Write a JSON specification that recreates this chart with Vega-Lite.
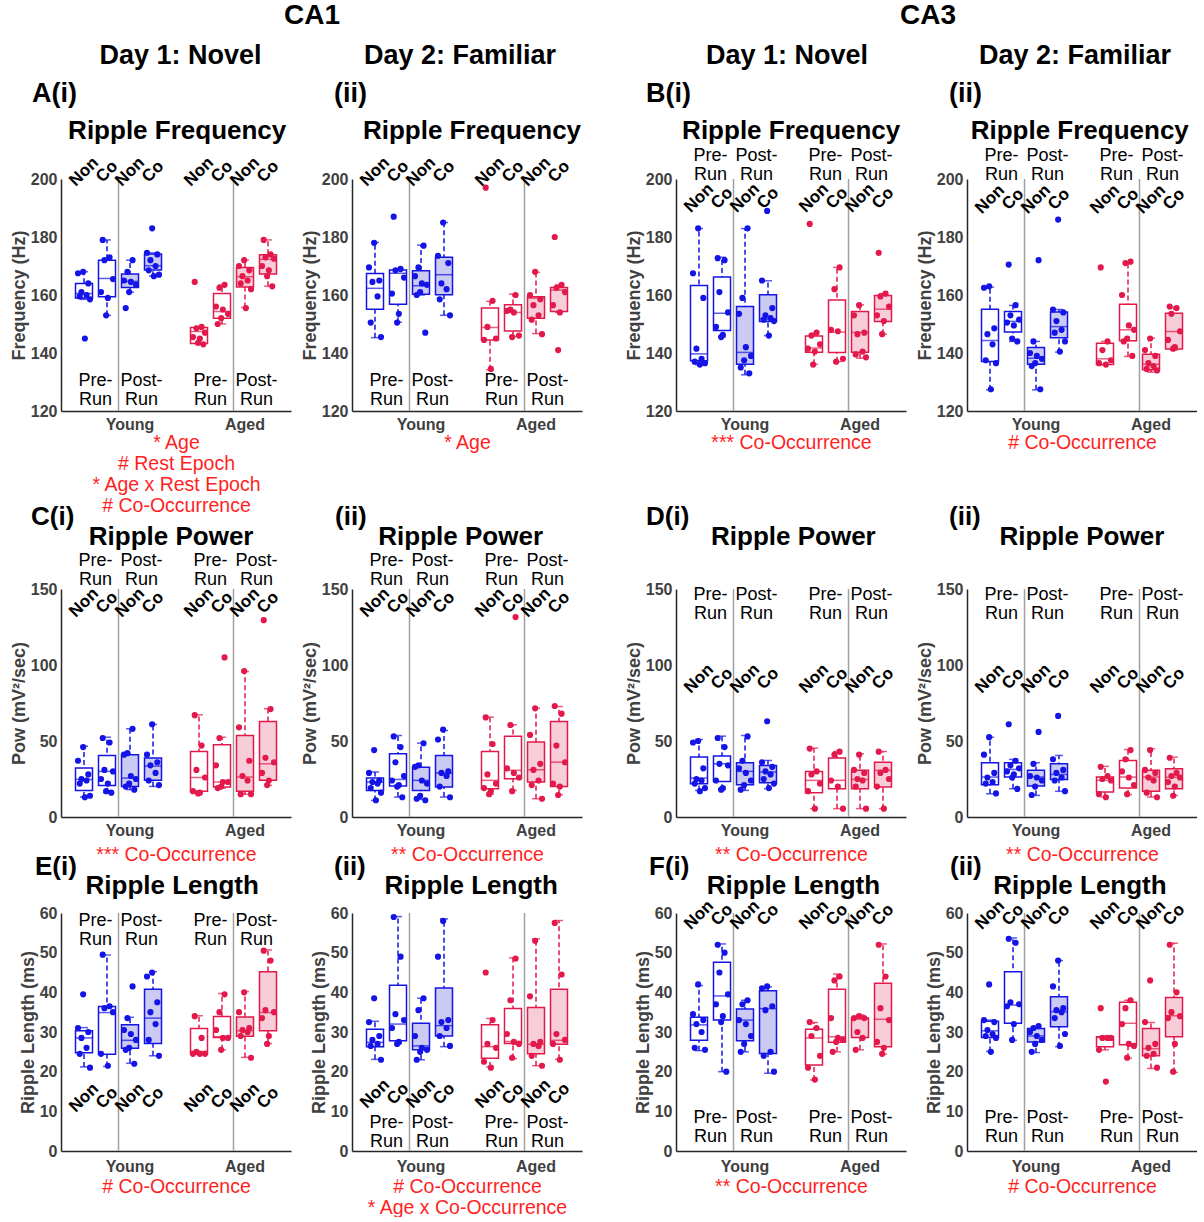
{
"$schema":"https://vega.github.io/schema/vega-lite/v6.json",
"background":"white",
"padding":{"left":10,"top":2,"right":0,"bottom":0},
"config":{
 "font":"Liberation Sans",
 "view":{"stroke":null},
 "range":{"category":["#e3194b","#e3194b","#e3194b","#e3194b","#1414e6","#1414e6","#1414e6","#1414e6"]},
 "axis":{"grid":false,"ticks":false,"labelOverlap":false,"domainColor":"#262626","domainWidth":1.5,"labelFont":"Liberation Sans","labelFontSize":16,"labelFontWeight":"bold","labelColor":"#404040","titleFont":"Liberation Sans","titleFontSize":18,"titleFontWeight":"bold","titleColor":"#404040"},
 "axisX":{"labelAngle":0,"labelPadding":5,"titleColor":"#ff1f1f","titleFontWeight":"normal","titleFontSize":19.5,"titleLineHeight":21,"titlePadding":1},
 "axisY":{"labelPadding":4,"titlePadding":2,"labelOverlap":false},
 "title":{"font":"Liberation Sans","fontWeight":"bold","color":"black","subtitleFont":"Liberation Sans","subtitleFontWeight":"bold","subtitleColor":"black","subtitleFontSize":26,"anchor":"start","frame":"group"}
},
"datasets":{
"ep":[{"g":"YPC","t":"Pre-\nRun"},{"g":"YTC","t":"Post-\nRun"},{"g":"APC","t":"Pre-\nRun"},{"g":"ATC","t":"Post-\nRun"}],
"cd":[{"g":"YPN","t":"Non"},{"g":"YPC","t":"Co"},{"g":"YTN","t":"Non"},{"g":"YTC","t":"Co"},{"g":"APN","t":"Non"},{"g":"APC","t":"Co"},{"g":"ATN","t":"Non"},{"g":"ATC","t":"Co"}],
"box":[
{"p":"A1","g":"YPN","lo":158.5,"q1":159,"md":160.5,"q3":164,"hi":168},
{"p":"A1","g":"YPC","lo":153,"q1":159.4,"md":165.7,"q3":172,"hi":179},
{"p":"A1","g":"YTN","lo":161,"q1":162.6,"md":164.7,"q3":167.2,"hi":172},
{"p":"A1","g":"YTC","lo":166.5,"q1":168.6,"md":170.1,"q3":174.1,"hi":174.5},
{"p":"A1","g":"APN","lo":143,"q1":143.3,"md":147.4,"q3":148.8,"hi":149},
{"p":"A1","g":"APC","lo":150,"q1":152,"md":154.3,"q3":160.5,"hi":163.5},
{"p":"A1","g":"ATN","lo":155.7,"q1":162.8,"md":166.3,"q3":169.5,"hi":172},
{"p":"A1","g":"ATC","lo":163,"q1":167.2,"md":172.3,"q3":173.9,"hi":179},
{"p":"A2","g":"YPN","lo":145.3,"q1":155.1,"md":162.3,"q3":167.4,"hi":178.1},
{"p":"A2","g":"YPC","lo":150.6,"q1":156.8,"md":167.5,"q3":168.6,"hi":169},
{"p":"A2","g":"YTN","lo":160,"q1":160.3,"md":163.2,"q3":168.4,"hi":177.2},
{"p":"A2","g":"YTC","lo":153,"q1":160.1,"md":167,"q3":173,"hi":185},
{"p":"A2","g":"APN","lo":134.2,"q1":144.5,"md":148.8,"q3":155.5,"hi":157.8},
{"p":"A2","g":"APC","lo":145.7,"q1":147.6,"md":154,"q3":156.6,"hi":160.3},
{"p":"A2","g":"ATN","lo":146.7,"q1":152,"md":158.9,"q3":159.4,"hi":167.8},
{"p":"A2","g":"ATC","lo":154,"q1":154.3,"md":161.7,"q3":162.6,"hi":163.5},
{"p":"B1","g":"YPN","lo":136,"q1":137.3,"md":139.7,"q3":163.3,"hi":182.9},
{"p":"B1","g":"YPC","lo":145.5,"q1":147.8,"md":153.7,"q3":166.2,"hi":173},
{"p":"B1","g":"YTN","lo":132.5,"q1":136.1,"md":140.2,"q3":156,"hi":182.9},
{"p":"B1","g":"YTC","lo":146,"q1":150.9,"md":151.7,"q3":160.1,"hi":164.9},
{"p":"B1","g":"APN","lo":136.1,"q1":140.3,"md":141.7,"q3":145.9,"hi":146.8},
{"p":"B1","g":"APC","lo":137,"q1":140.2,"md":147.2,"q3":158.3,"hi":169.5},
{"p":"B1","g":"ATN","lo":138.2,"q1":140.3,"md":147.1,"q3":154.3,"hi":156.6},
{"p":"B1","g":"ATC","lo":146.5,"q1":150.9,"md":155.1,"q3":159.8,"hi":160.5},
{"p":"B2","g":"YPN","lo":127.3,"q1":137.1,"md":144.3,"q3":155.1,"hi":162.7},
{"p":"B2","g":"YPC","lo":144,"q1":147.2,"md":150.9,"q3":154.3,"hi":156.4},
{"p":"B2","g":"YTN","lo":127.3,"q1":136.1,"md":138.2,"q3":141.9,"hi":144},
{"p":"B2","g":"YTC","lo":140.3,"q1":145.3,"md":149.1,"q3":154.1,"hi":155},
{"p":"B2","g":"APN","lo":136,"q1":136,"md":138,"q3":143.4,"hi":144},
{"p":"B2","g":"APC","lo":138.8,"q1":144.2,"md":148,"q3":156.8,"hi":171},
{"p":"B2","g":"ATN","lo":133.4,"q1":134.2,"md":136.1,"q3":139.6,"hi":145.1},
{"p":"B2","g":"ATC","lo":141,"q1":141.4,"md":147.4,"q3":153.7,"hi":155.8},
{"p":"C1","g":"YPN","lo":13.1,"q1":17.5,"md":24.7,"q3":32.2,"hi":46.6},
{"p":"C1","g":"YPC","lo":16,"q1":20.8,"md":30,"q3":40.5,"hi":52.5},
{"p":"C1","g":"YTN","lo":18,"q1":20.1,"md":25.6,"q3":40.9,"hi":58},
{"p":"C1","g":"YTC","lo":20.1,"q1":24.1,"md":33.5,"q3":38.8,"hi":60.9},
{"p":"C1","g":"APN","lo":15.5,"q1":16.9,"md":26,"q3":43.1,"hi":67.2},
{"p":"C1","g":"APC","lo":19,"q1":19.7,"md":23,"q3":47.5,"hi":52.5},
{"p":"C1","g":"ATN","lo":14.9,"q1":16.9,"md":26.3,"q3":53.6,"hi":95.7},
{"p":"C1","g":"ATC","lo":20.8,"q1":24.1,"md":35,"q3":62.8,"hi":71.2},
{"p":"C2","g":"YPN","lo":10.9,"q1":17.5,"md":23,"q3":25.6,"hi":29.6},
{"p":"C2","g":"YPC","lo":13.1,"q1":20.4,"md":24.7,"q3":41.6,"hi":53.6},
{"p":"C2","g":"YTN","lo":11.6,"q1":17.5,"md":24.1,"q3":32.8,"hi":48.6},
{"p":"C2","g":"YTC","lo":13.1,"q1":19.7,"md":28.9,"q3":40.5,"hi":56.9},
{"p":"C2","g":"APN","lo":15,"q1":18.6,"md":24.1,"q3":43.1,"hi":65.7},
{"p":"C2","g":"APC","lo":17.5,"q1":25.2,"md":30.7,"q3":53.2,"hi":60.7},
{"p":"C2","g":"ATN","lo":12,"q1":23,"md":31.1,"q3":49.3,"hi":71.6},
{"p":"C2","g":"ATC","lo":14.7,"q1":20.1,"md":36.1,"q3":62.8,"hi":72.7},
{"p":"D1","g":"YPN","lo":17.5,"q1":21.9,"md":25.6,"q3":39.4,"hi":51},
{"p":"D1","g":"YPC","lo":18.2,"q1":23.4,"md":35,"q3":40.1,"hi":53.2},
{"p":"D1","g":"YTN","lo":17.5,"q1":21.2,"md":30,"q3":35.7,"hi":53.6},
{"p":"D1","g":"YTC","lo":18.6,"q1":22.6,"md":29.6,"q3":33.9,"hi":37.2},
{"p":"D1","g":"APN","lo":5.5,"q1":16,"md":24.1,"q3":30,"hi":45.3},
{"p":"D1","g":"APC","lo":5.5,"q1":18.6,"md":24.1,"q3":38.8,"hi":43.1},
{"p":"D1","g":"ATN","lo":5.5,"q1":18.6,"md":24.7,"q3":30.7,"hi":41.6},
{"p":"D1","g":"ATC","lo":5.5,"q1":19.7,"md":30.7,"q3":36.1,"hi":43.1},
{"p":"D2","g":"YPN","lo":15.3,"q1":21.2,"md":26.3,"q3":35.7,"hi":52.5},
{"p":"D2","g":"YPC","lo":18.6,"q1":26.3,"md":31.3,"q3":35.7,"hi":37.9},
{"p":"D2","g":"YTN","lo":14.2,"q1":20.4,"md":26.3,"q3":30.7,"hi":35.7},
{"p":"D2","g":"YTC","lo":16.9,"q1":24.7,"md":28,"q3":35,"hi":40.5},
{"p":"D2","g":"APN","lo":13.1,"q1":16.4,"md":24.1,"q3":26.3,"hi":33.3},
{"p":"D2","g":"APC","lo":14.7,"q1":19,"md":26.3,"q3":37.2,"hi":44.4},
{"p":"D2","g":"ATN","lo":13.1,"q1":16.9,"md":26.3,"q3":30.7,"hi":44.9},
{"p":"D2","g":"ATC","lo":14.2,"q1":18.6,"md":26.1,"q3":31.8,"hi":39.4},
{"p":"E1","g":"YPN","lo":21.2,"q1":24.8,"md":28.5,"q3":30.3,"hi":31.1},
{"p":"E1","g":"YPC","lo":21.3,"q1":24.4,"md":34.9,"q3":36.4,"hi":49.4},
{"p":"E1","g":"YTN","lo":22.1,"q1":25.9,"md":27.9,"q3":31.8,"hi":33.7},
{"p":"E1","g":"YTC","lo":24,"q1":27.1,"md":33.5,"q3":40.8,"hi":45.2},
{"p":"E1","g":"APN","lo":24.5,"q1":24.5,"md":25.1,"q3":30.9,"hi":34.1},
{"p":"E1","g":"APC","lo":25.5,"q1":28.6,"md":28.8,"q3":33.9,"hi":39.7},
{"p":"E1","g":"ATN","lo":23.6,"q1":28.9,"md":30.3,"q3":33.8,"hi":40.2},
{"p":"E1","g":"ATC","lo":27.1,"q1":30.3,"md":34.9,"q3":45.2,"hi":50.7},
{"p":"E2","g":"YPN","lo":23.1,"q1":26.3,"md":27.4,"q3":30.7,"hi":32.7},
{"p":"E2","g":"YPC","lo":27.1,"q1":27.8,"md":32,"q3":41.8,"hi":59.1},
{"p":"E2","g":"YTN","lo":23,"q1":25.5,"md":26.5,"q3":32.2,"hi":38.5},
{"p":"E2","g":"YTC","lo":26.3,"q1":29,"md":31.6,"q3":41.1,"hi":58.5},
{"p":"E2","g":"APN","lo":21.2,"q1":23.4,"md":26.3,"q3":31.8,"hi":33.4},
{"p":"E2","g":"APC","lo":23.3,"q1":27.1,"md":27.6,"q3":35.9,"hi":48.7},
{"p":"E2","g":"ATN","lo":21.5,"q1":24.5,"md":26.9,"q3":36.2,"hi":53.5},
{"p":"E2","g":"ATC","lo":23.1,"q1":26.9,"md":27.9,"q3":40.8,"hi":58.1},
{"p":"F1","g":"YPN","lo":25.3,"q1":27.9,"md":31.8,"q3":33.7,"hi":41.7},
{"p":"F1","g":"YPC","lo":20,"q1":33,"md":39.1,"q3":47.6,"hi":52.2},
{"p":"F1","g":"YTN","lo":25,"q1":27.8,"md":33,"q3":35.8,"hi":38},
{"p":"F1","g":"YTC","lo":19.6,"q1":24.6,"md":35.9,"q3":40.4,"hi":41.4},
{"p":"F1","g":"APN","lo":17.9,"q1":21.7,"md":28.5,"q3":30.7,"hi":32.4},
{"p":"F1","g":"APC","lo":25,"q1":27.4,"md":28.8,"q3":40.8,"hi":44.6},
{"p":"F1","g":"ATN","lo":25.5,"q1":28.6,"md":33.3,"q3":33.5,"hi":34.3},
{"p":"F1","g":"ATC","lo":24.4,"q1":26.3,"md":33.2,"q3":42.3,"hi":52.2},
{"p":"F2","g":"YPN","lo":25.1,"q1":28.6,"md":30.3,"q3":32.7,"hi":33},
{"p":"F2","g":"YPC","lo":27.9,"q1":32.2,"md":36.8,"q3":45.2,"hi":53.7},
{"p":"F2","g":"YTN","lo":24.8,"q1":27.5,"md":29,"q3":30.9,"hi":31.3},
{"p":"F2","g":"YTC","lo":26.3,"q1":31.3,"md":35.1,"q3":38.9,"hi":48},
{"p":"F2","g":"APN","lo":25.5,"q1":26.3,"md":28.6,"q3":28.8,"hi":29},
{"p":"F2","g":"APC","lo":23.4,"q1":26.8,"md":32.2,"q3":37.5,"hi":38},
{"p":"F2","g":"ATN","lo":20.8,"q1":24,"md":25.8,"q3":30.9,"hi":32.4},
{"p":"F2","g":"ATC","lo":19.8,"q1":28.8,"md":34.1,"q3":38.7,"hi":52.4}
],
"pts":[
{"p":"A1","g":"YPN","v":168,"s":4},{"p":"A1","g":"YPN","v":167.5,"s":1},{"p":"A1","g":"YPN","v":164,"s":7},{"p":"A1","g":"YPN","v":161,"s":3},{"p":"A1","g":"YPN","v":160,"s":6},{"p":"A1","g":"YPN","v":159.5,"s":2},{"p":"A1","g":"YPN","v":158.5,"s":8},{"p":"A1","g":"YPN","v":145,"s":5},
{"p":"A1","g":"YPC","v":179,"s":2},{"p":"A1","g":"YPC","v":173,"s":6},{"p":"A1","g":"YPC","v":172,"s":3},{"p":"A1","g":"YPC","v":165.5,"s":8},{"p":"A1","g":"YPC","v":161,"s":1},{"p":"A1","g":"YPC","v":159,"s":5},{"p":"A1","g":"YPC","v":153,"s":4},
{"p":"A1","g":"YTN","v":172,"s":6},{"p":"A1","g":"YTN","v":168,"s":3},{"p":"A1","g":"YTN","v":165,"s":1},{"p":"A1","g":"YTN","v":164.5,"s":5},{"p":"A1","g":"YTN","v":163.5,"s":8},{"p":"A1","g":"YTN","v":161,"s":4},{"p":"A1","g":"YTN","v":155.5,"s":2},
{"p":"A1","g":"YTC","v":183,"s":4},{"p":"A1","g":"YTC","v":174.5,"s":1},{"p":"A1","g":"YTC","v":174,"s":7},{"p":"A1","g":"YTC","v":172,"s":3},{"p":"A1","g":"YTC","v":170,"s":6},{"p":"A1","g":"YTC","v":168.5,"s":2},{"p":"A1","g":"YTC","v":167,"s":8},{"p":"A1","g":"YTC","v":166.5,"s":5},
{"p":"A1","g":"APN","v":164.5,"s":2},{"p":"A1","g":"APN","v":149,"s":6},{"p":"A1","g":"APN","v":148.5,"s":3},{"p":"A1","g":"APN","v":147,"s":8},{"p":"A1","g":"APN","v":145.5,"s":1},{"p":"A1","g":"APN","v":145,"s":5},{"p":"A1","g":"APN","v":143.5,"s":4},{"p":"A1","g":"APN","v":143,"s":7},
{"p":"A1","g":"APC","v":163.5,"s":6},{"p":"A1","g":"APC","v":162.5,"s":3},{"p":"A1","g":"APC","v":156,"s":1},{"p":"A1","g":"APC","v":155,"s":5},{"p":"A1","g":"APC","v":153.5,"s":8},{"p":"A1","g":"APC","v":152,"s":4},{"p":"A1","g":"APC","v":150,"s":2},
{"p":"A1","g":"ATN","v":172,"s":4},{"p":"A1","g":"ATN","v":170,"s":1},{"p":"A1","g":"ATN","v":168.5,"s":7},{"p":"A1","g":"ATN","v":166.5,"s":3},{"p":"A1","g":"ATN","v":165,"s":6},{"p":"A1","g":"ATN","v":164,"s":2},{"p":"A1","g":"ATN","v":162,"s":8},{"p":"A1","g":"ATN","v":155.5,"s":5},
{"p":"A1","g":"ATC","v":179,"s":2},{"p":"A1","g":"ATC","v":174,"s":6},{"p":"A1","g":"ATC","v":173,"s":3},{"p":"A1","g":"ATC","v":172.5,"s":8},{"p":"A1","g":"ATC","v":170,"s":1},{"p":"A1","g":"ATC","v":168.5,"s":5},{"p":"A1","g":"ATC","v":166.5,"s":4},{"p":"A1","g":"ATC","v":163,"s":7},
{"p":"A2","g":"YPN","v":178,"s":4},{"p":"A2","g":"YPN","v":169.5,"s":1},{"p":"A2","g":"YPN","v":165,"s":7},{"p":"A2","g":"YPN","v":164.5,"s":3},{"p":"A2","g":"YPN","v":159.5,"s":6},{"p":"A2","g":"YPN","v":150.5,"s":2},{"p":"A2","g":"YPN","v":145.5,"s":8},
{"p":"A2","g":"YPC","v":187,"s":2},{"p":"A2","g":"YPC","v":169,"s":6},{"p":"A2","g":"YPC","v":168.5,"s":3},{"p":"A2","g":"YPC","v":166,"s":8},{"p":"A2","g":"YPC","v":160.5,"s":1},{"p":"A2","g":"YPC","v":153.5,"s":5},{"p":"A2","g":"YPC","v":150.5,"s":4},
{"p":"A2","g":"YTN","v":177,"s":6},{"p":"A2","g":"YTN","v":169.5,"s":3},{"p":"A2","g":"YTN","v":166.5,"s":1},{"p":"A2","g":"YTN","v":164,"s":5},{"p":"A2","g":"YTN","v":163.5,"s":8},{"p":"A2","g":"YTN","v":161,"s":4},{"p":"A2","g":"YTN","v":160,"s":2},{"p":"A2","g":"YTN","v":147,"s":7},
{"p":"A2","g":"YTC","v":185,"s":4},{"p":"A2","g":"YTC","v":173.5,"s":1},{"p":"A2","g":"YTC","v":171,"s":7},{"p":"A2","g":"YTC","v":164,"s":3},{"p":"A2","g":"YTC","v":162,"s":6},{"p":"A2","g":"YTC","v":158.5,"s":2},{"p":"A2","g":"YTC","v":153,"s":8},
{"p":"A2","g":"APN","v":197,"s":2},{"p":"A2","g":"APN","v":158,"s":6},{"p":"A2","g":"APN","v":149,"s":3},{"p":"A2","g":"APN","v":145,"s":8},{"p":"A2","g":"APN","v":144.5,"s":1},{"p":"A2","g":"APN","v":134.5,"s":5},
{"p":"A2","g":"APC","v":160,"s":6},{"p":"A2","g":"APC","v":155,"s":3},{"p":"A2","g":"APC","v":154.5,"s":1},{"p":"A2","g":"APC","v":154,"s":5},{"p":"A2","g":"APC","v":146,"s":8},{"p":"A2","g":"APC","v":145.5,"s":4},
{"p":"A2","g":"ATN","v":168,"s":4},{"p":"A2","g":"ATN","v":160,"s":1},{"p":"A2","g":"ATN","v":158.5,"s":7},{"p":"A2","g":"ATN","v":156.5,"s":3},{"p":"A2","g":"ATN","v":153,"s":6},{"p":"A2","g":"ATN","v":151.5,"s":2},{"p":"A2","g":"ATN","v":146.5,"s":8},
{"p":"A2","g":"ATC","v":180,"s":2},{"p":"A2","g":"ATC","v":163.5,"s":6},{"p":"A2","g":"ATC","v":162.5,"s":3},{"p":"A2","g":"ATC","v":161,"s":8},{"p":"A2","g":"ATC","v":156.5,"s":1},{"p":"A2","g":"ATC","v":154,"s":5},{"p":"A2","g":"ATC","v":141,"s":4},
{"p":"B1","g":"YPN","v":183,"s":4},{"p":"B1","g":"YPN","v":167.5,"s":1},{"p":"B1","g":"YPN","v":159,"s":7},{"p":"B1","g":"YPN","v":141.5,"s":3},{"p":"B1","g":"YPN","v":138,"s":6},{"p":"B1","g":"YPN","v":137,"s":2},{"p":"B1","g":"YPN","v":136.5,"s":8},{"p":"B1","g":"YPN","v":136,"s":5},
{"p":"B1","g":"YPC","v":172.7,"s":2},{"p":"B1","g":"YPC","v":172,"s":6},{"p":"B1","g":"YPC","v":161,"s":3},{"p":"B1","g":"YPC","v":154,"s":8},{"p":"B1","g":"YPC","v":149,"s":1},{"p":"B1","g":"YPC","v":146.3,"s":5},{"p":"B1","g":"YPC","v":145.5,"s":4},
{"p":"B1","g":"YTN","v":183,"s":6},{"p":"B1","g":"YTN","v":159,"s":3},{"p":"B1","g":"YTN","v":153.5,"s":1},{"p":"B1","g":"YTN","v":142,"s":5},{"p":"B1","g":"YTN","v":139,"s":8},{"p":"B1","g":"YTN","v":137.5,"s":4},{"p":"B1","g":"YTN","v":135,"s":2},{"p":"B1","g":"YTN","v":133,"s":7},
{"p":"B1","g":"YTC","v":189,"s":4},{"p":"B1","g":"YTC","v":165,"s":1},{"p":"B1","g":"YTC","v":155.5,"s":7},{"p":"B1","g":"YTC","v":153,"s":3},{"p":"B1","g":"YTC","v":152,"s":6},{"p":"B1","g":"YTC","v":151.5,"s":2},{"p":"B1","g":"YTC","v":151,"s":8},{"p":"B1","g":"YTC","v":146,"s":5},
{"p":"B1","g":"APN","v":184.5,"s":2},{"p":"B1","g":"APN","v":147,"s":6},{"p":"B1","g":"APN","v":146,"s":3},{"p":"B1","g":"APN","v":143,"s":8},{"p":"B1","g":"APN","v":141.5,"s":1},{"p":"B1","g":"APN","v":140.5,"s":5},{"p":"B1","g":"APN","v":136,"s":4},
{"p":"B1","g":"APC","v":169.5,"s":6},{"p":"B1","g":"APC","v":162,"s":3},{"p":"B1","g":"APC","v":148,"s":1},{"p":"B1","g":"APC","v":147.5,"s":5},{"p":"B1","g":"APC","v":138,"s":8},{"p":"B1","g":"APC","v":137,"s":4},
{"p":"B1","g":"ATN","v":156.5,"s":4},{"p":"B1","g":"ATN","v":153,"s":1},{"p":"B1","g":"ATN","v":147,"s":7},{"p":"B1","g":"ATN","v":146.5,"s":3},{"p":"B1","g":"ATN","v":140.5,"s":6},{"p":"B1","g":"ATN","v":139.5,"s":2},{"p":"B1","g":"ATN","v":138.5,"s":8},
{"p":"B1","g":"ATC","v":174.5,"s":2},{"p":"B1","g":"ATC","v":160.5,"s":6},{"p":"B1","g":"ATC","v":159.5,"s":3},{"p":"B1","g":"ATC","v":156,"s":8},{"p":"B1","g":"ATC","v":153,"s":1},{"p":"B1","g":"ATC","v":151,"s":5},{"p":"B1","g":"ATC","v":146.5,"s":4},
{"p":"B2","g":"YPN","v":163,"s":4},{"p":"B2","g":"YPN","v":162.5,"s":1},{"p":"B2","g":"YPN","v":148.5,"s":7},{"p":"B2","g":"YPN","v":146.5,"s":3},{"p":"B2","g":"YPN","v":143,"s":6},{"p":"B2","g":"YPN","v":137.5,"s":2},{"p":"B2","g":"YPN","v":136.5,"s":8},{"p":"B2","g":"YPN","v":127.5,"s":5},
{"p":"B2","g":"YPC","v":170.5,"s":2},{"p":"B2","g":"YPC","v":156.5,"s":6},{"p":"B2","g":"YPC","v":153,"s":3},{"p":"B2","g":"YPC","v":151.5,"s":8},{"p":"B2","g":"YPC","v":150.5,"s":1},{"p":"B2","g":"YPC","v":149.5,"s":5},{"p":"B2","g":"YPC","v":145,"s":4},{"p":"B2","g":"YPC","v":144,"s":7},
{"p":"B2","g":"YTN","v":172,"s":6},{"p":"B2","g":"YTN","v":144,"s":3},{"p":"B2","g":"YTN","v":140,"s":1},{"p":"B2","g":"YTN","v":139,"s":5},{"p":"B2","g":"YTN","v":138,"s":8},{"p":"B2","g":"YTN","v":136.5,"s":4},{"p":"B2","g":"YTN","v":135.5,"s":2},{"p":"B2","g":"YTN","v":127.5,"s":7},
{"p":"B2","g":"YTC","v":186,"s":4},{"p":"B2","g":"YTC","v":155,"s":1},{"p":"B2","g":"YTC","v":154,"s":7},{"p":"B2","g":"YTC","v":151,"s":3},{"p":"B2","g":"YTC","v":148,"s":6},{"p":"B2","g":"YTC","v":147,"s":2},{"p":"B2","g":"YTC","v":144,"s":8},{"p":"B2","g":"YTC","v":140.5,"s":5},
{"p":"B2","g":"APN","v":169.5,"s":2},{"p":"B2","g":"APN","v":144,"s":6},{"p":"B2","g":"APN","v":141,"s":3},{"p":"B2","g":"APN","v":137.5,"s":8},{"p":"B2","g":"APN","v":136.5,"s":1},{"p":"B2","g":"APN","v":136,"s":5},
{"p":"B2","g":"APC","v":171.5,"s":6},{"p":"B2","g":"APC","v":171,"s":3},{"p":"B2","g":"APC","v":160,"s":1},{"p":"B2","g":"APC","v":149.5,"s":5},{"p":"B2","g":"APC","v":148,"s":8},{"p":"B2","g":"APC","v":145,"s":4},{"p":"B2","g":"APC","v":144,"s":2},{"p":"B2","g":"APC","v":139,"s":7},
{"p":"B2","g":"ATN","v":145,"s":4},{"p":"B2","g":"ATN","v":141,"s":1},{"p":"B2","g":"ATN","v":139,"s":7},{"p":"B2","g":"ATN","v":136.5,"s":3},{"p":"B2","g":"ATN","v":135.5,"s":6},{"p":"B2","g":"ATN","v":134.5,"s":2},{"p":"B2","g":"ATN","v":134,"s":8},
{"p":"B2","g":"ATC","v":156,"s":2},{"p":"B2","g":"ATC","v":155.5,"s":6},{"p":"B2","g":"ATC","v":153.5,"s":3},{"p":"B2","g":"ATC","v":147.5,"s":8},{"p":"B2","g":"ATC","v":144.5,"s":1},{"p":"B2","g":"ATC","v":142,"s":5},{"p":"B2","g":"ATC","v":141.5,"s":4},
{"p":"C1","g":"YPN","v":46,"s":4},{"p":"C1","g":"YPN","v":37,"s":1},{"p":"C1","g":"YPN","v":28,"s":7},{"p":"C1","g":"YPN","v":25,"s":3},{"p":"C1","g":"YPN","v":24,"s":6},{"p":"C1","g":"YPN","v":22,"s":2},{"p":"C1","g":"YPN","v":14,"s":8},{"p":"C1","g":"YPN","v":13,"s":5},
{"p":"C1","g":"YPC","v":52,"s":2},{"p":"C1","g":"YPC","v":49,"s":6},{"p":"C1","g":"YPC","v":31,"s":3},{"p":"C1","g":"YPC","v":30,"s":8},{"p":"C1","g":"YPC","v":25,"s":1},{"p":"C1","g":"YPC","v":22,"s":5},{"p":"C1","g":"YPC","v":17,"s":4},{"p":"C1","g":"YPC","v":16,"s":7},
{"p":"C1","g":"YTN","v":58,"s":6},{"p":"C1","g":"YTN","v":42,"s":3},{"p":"C1","g":"YTN","v":41,"s":1},{"p":"C1","g":"YTN","v":27,"s":5},{"p":"C1","g":"YTN","v":25,"s":8},{"p":"C1","g":"YTN","v":22,"s":4},{"p":"C1","g":"YTN","v":20,"s":2},{"p":"C1","g":"YTN","v":18,"s":7},
{"p":"C1","g":"YTC","v":61,"s":4},{"p":"C1","g":"YTC","v":41,"s":1},{"p":"C1","g":"YTC","v":36,"s":7},{"p":"C1","g":"YTC","v":34,"s":3},{"p":"C1","g":"YTC","v":29,"s":6},{"p":"C1","g":"YTC","v":24,"s":2},{"p":"C1","g":"YTC","v":21,"s":8},
{"p":"C1","g":"APN","v":67,"s":2},{"p":"C1","g":"APN","v":47,"s":6},{"p":"C1","g":"APN","v":31,"s":3},{"p":"C1","g":"APN","v":26,"s":8},{"p":"C1","g":"APN","v":17,"s":1},{"p":"C1","g":"APN","v":16,"s":5},{"p":"C1","g":"APN","v":15.5,"s":4},
{"p":"C1","g":"APC","v":105,"s":6},{"p":"C1","g":"APC","v":52,"s":3},{"p":"C1","g":"APC","v":34,"s":1},{"p":"C1","g":"APC","v":23,"s":5},{"p":"C1","g":"APC","v":23,"s":8},{"p":"C1","g":"APC","v":20,"s":4},{"p":"C1","g":"APC","v":19,"s":2},
{"p":"C1","g":"ATN","v":96,"s":4},{"p":"C1","g":"ATN","v":59,"s":1},{"p":"C1","g":"ATN","v":37,"s":7},{"p":"C1","g":"ATN","v":27,"s":3},{"p":"C1","g":"ATN","v":24,"s":6},{"p":"C1","g":"ATN","v":15,"s":2},{"p":"C1","g":"ATN","v":15,"s":8},
{"p":"C1","g":"ATC","v":129.5,"s":2},{"p":"C1","g":"ATC","v":71,"s":6},{"p":"C1","g":"ATC","v":39,"s":3},{"p":"C1","g":"ATC","v":36,"s":8},{"p":"C1","g":"ATC","v":29,"s":1},{"p":"C1","g":"ATC","v":24,"s":5},{"p":"C1","g":"ATC","v":21,"s":4},
{"p":"C2","g":"YPN","v":44,"s":4},{"p":"C2","g":"YPN","v":29,"s":1},{"p":"C2","g":"YPN","v":24,"s":7},{"p":"C2","g":"YPN","v":23,"s":3},{"p":"C2","g":"YPN","v":22,"s":6},{"p":"C2","g":"YPN","v":19,"s":2},{"p":"C2","g":"YPN","v":16,"s":8},{"p":"C2","g":"YPN","v":11,"s":5},
{"p":"C2","g":"YPC","v":53,"s":2},{"p":"C2","g":"YPC","v":46,"s":6},{"p":"C2","g":"YPC","v":36,"s":3},{"p":"C2","g":"YPC","v":27,"s":8},{"p":"C2","g":"YPC","v":24,"s":1},{"p":"C2","g":"YPC","v":21,"s":5},{"p":"C2","g":"YPC","v":20,"s":4},{"p":"C2","g":"YPC","v":13,"s":7},
{"p":"C2","g":"YTN","v":48.5,"s":6},{"p":"C2","g":"YTN","v":34,"s":3},{"p":"C2","g":"YTN","v":33,"s":1},{"p":"C2","g":"YTN","v":24,"s":5},{"p":"C2","g":"YTN","v":22,"s":8},{"p":"C2","g":"YTN","v":14,"s":4},{"p":"C2","g":"YTN","v":12,"s":2},{"p":"C2","g":"YTN","v":11,"s":7},
{"p":"C2","g":"YTC","v":57.5,"s":4},{"p":"C2","g":"YTC","v":51,"s":1},{"p":"C2","g":"YTC","v":30,"s":7},{"p":"C2","g":"YTC","v":29,"s":3},{"p":"C2","g":"YTC","v":27,"s":6},{"p":"C2","g":"YTC","v":20,"s":2},{"p":"C2","g":"YTC","v":13,"s":8},
{"p":"C2","g":"APN","v":65.5,"s":2},{"p":"C2","g":"APN","v":48,"s":6},{"p":"C2","g":"APN","v":28,"s":3},{"p":"C2","g":"APN","v":22,"s":8},{"p":"C2","g":"APN","v":19,"s":1},{"p":"C2","g":"APN","v":17,"s":5},{"p":"C2","g":"APN","v":15,"s":4},
{"p":"C2","g":"APC","v":131.5,"s":6},{"p":"C2","g":"APC","v":60.5,"s":3},{"p":"C2","g":"APC","v":32,"s":1},{"p":"C2","g":"APC","v":29,"s":5},{"p":"C2","g":"APC","v":26,"s":8},{"p":"C2","g":"APC","v":17,"s":4},
{"p":"C2","g":"ATN","v":71.5,"s":4},{"p":"C2","g":"ATN","v":54,"s":1},{"p":"C2","g":"ATN","v":35,"s":7},{"p":"C2","g":"ATN","v":31,"s":3},{"p":"C2","g":"ATN","v":24,"s":6},{"p":"C2","g":"ATN","v":21,"s":2},{"p":"C2","g":"ATN","v":12,"s":8},
{"p":"C2","g":"ATC","v":73,"s":2},{"p":"C2","g":"ATC","v":68,"s":6},{"p":"C2","g":"ATC","v":47,"s":3},{"p":"C2","g":"ATC","v":36,"s":8},{"p":"C2","g":"ATC","v":22,"s":1},{"p":"C2","g":"ATC","v":20,"s":5},{"p":"C2","g":"ATC","v":14.5,"s":4},
{"p":"D1","g":"YPN","v":50,"s":4},{"p":"D1","g":"YPN","v":49,"s":1},{"p":"D1","g":"YPN","v":32,"s":7},{"p":"D1","g":"YPN","v":25,"s":3},{"p":"D1","g":"YPN","v":24,"s":6},{"p":"D1","g":"YPN","v":22,"s":2},{"p":"D1","g":"YPN","v":19,"s":8},{"p":"D1","g":"YPN","v":17,"s":5},
{"p":"D1","g":"YPC","v":52,"s":2},{"p":"D1","g":"YPC","v":46,"s":6},{"p":"D1","g":"YPC","v":35,"s":3},{"p":"D1","g":"YPC","v":34,"s":8},{"p":"D1","g":"YPC","v":24,"s":1},{"p":"D1","g":"YPC","v":19,"s":5},{"p":"D1","g":"YPC","v":18,"s":4},
{"p":"D1","g":"YTN","v":53,"s":6},{"p":"D1","g":"YTN","v":37,"s":3},{"p":"D1","g":"YTN","v":32,"s":1},{"p":"D1","g":"YTN","v":29,"s":5},{"p":"D1","g":"YTN","v":24,"s":8},{"p":"D1","g":"YTN","v":21,"s":4},{"p":"D1","g":"YTN","v":18,"s":2},
{"p":"D1","g":"YTC","v":63,"s":4},{"p":"D1","g":"YTC","v":36,"s":1},{"p":"D1","g":"YTC","v":33,"s":7},{"p":"D1","g":"YTC","v":30,"s":3},{"p":"D1","g":"YTC","v":28,"s":6},{"p":"D1","g":"YTC","v":25,"s":2},{"p":"D1","g":"YTC","v":22,"s":8},{"p":"D1","g":"YTC","v":19,"s":5},
{"p":"D1","g":"APN","v":45,"s":2},{"p":"D1","g":"APN","v":30,"s":6},{"p":"D1","g":"APN","v":28,"s":3},{"p":"D1","g":"APN","v":22,"s":8},{"p":"D1","g":"APN","v":17,"s":1},{"p":"D1","g":"APN","v":5.5,"s":5},
{"p":"D1","g":"APC","v":43,"s":6},{"p":"D1","g":"APC","v":41,"s":3},{"p":"D1","g":"APC","v":24,"s":1},{"p":"D1","g":"APC","v":20,"s":5},{"p":"D1","g":"APC","v":5.5,"s":8},
{"p":"D1","g":"ATN","v":41,"s":4},{"p":"D1","g":"ATN","v":31,"s":1},{"p":"D1","g":"ATN","v":29,"s":7},{"p":"D1","g":"ATN","v":25,"s":3},{"p":"D1","g":"ATN","v":24,"s":6},{"p":"D1","g":"ATN","v":20,"s":2},{"p":"D1","g":"ATN","v":5.5,"s":8},
{"p":"D1","g":"ATC","v":43,"s":2},{"p":"D1","g":"ATC","v":31,"s":6},{"p":"D1","g":"ATC","v":29,"s":3},{"p":"D1","g":"ATC","v":25,"s":8},{"p":"D1","g":"ATC","v":20,"s":1},{"p":"D1","g":"ATC","v":5.5,"s":5},
{"p":"D2","g":"YPN","v":52.5,"s":4},{"p":"D2","g":"YPN","v":41,"s":1},{"p":"D2","g":"YPN","v":29,"s":7},{"p":"D2","g":"YPN","v":26,"s":3},{"p":"D2","g":"YPN","v":23,"s":6},{"p":"D2","g":"YPN","v":22,"s":2},{"p":"D2","g":"YPN","v":15.5,"s":8},
{"p":"D2","g":"YPC","v":61,"s":2},{"p":"D2","g":"YPC","v":37,"s":6},{"p":"D2","g":"YPC","v":34,"s":3},{"p":"D2","g":"YPC","v":32,"s":8},{"p":"D2","g":"YPC","v":30,"s":1},{"p":"D2","g":"YPC","v":28,"s":5},{"p":"D2","g":"YPC","v":26,"s":4},{"p":"D2","g":"YPC","v":18.5,"s":7},
{"p":"D2","g":"YTN","v":56,"s":6},{"p":"D2","g":"YTN","v":35,"s":3},{"p":"D2","g":"YTN","v":27,"s":1},{"p":"D2","g":"YTN","v":26,"s":5},{"p":"D2","g":"YTN","v":24,"s":8},{"p":"D2","g":"YTN","v":20,"s":4},{"p":"D2","g":"YTN","v":14.5,"s":2},
{"p":"D2","g":"YTC","v":66.5,"s":4},{"p":"D2","g":"YTC","v":38,"s":1},{"p":"D2","g":"YTC","v":31,"s":7},{"p":"D2","g":"YTC","v":29,"s":3},{"p":"D2","g":"YTC","v":26,"s":6},{"p":"D2","g":"YTC","v":24,"s":2},{"p":"D2","g":"YTC","v":17,"s":8},
{"p":"D2","g":"APN","v":33,"s":2},{"p":"D2","g":"APN","v":27,"s":6},{"p":"D2","g":"APN","v":25,"s":3},{"p":"D2","g":"APN","v":24,"s":8},{"p":"D2","g":"APN","v":15,"s":1},{"p":"D2","g":"APN","v":13,"s":5},
{"p":"D2","g":"APC","v":44,"s":6},{"p":"D2","g":"APC","v":38,"s":3},{"p":"D2","g":"APC","v":30,"s":1},{"p":"D2","g":"APC","v":26,"s":5},{"p":"D2","g":"APC","v":21,"s":8},{"p":"D2","g":"APC","v":15,"s":4},
{"p":"D2","g":"ATN","v":44,"s":4},{"p":"D2","g":"ATN","v":31,"s":1},{"p":"D2","g":"ATN","v":29,"s":7},{"p":"D2","g":"ATN","v":26,"s":3},{"p":"D2","g":"ATN","v":24,"s":6},{"p":"D2","g":"ATN","v":16,"s":2},{"p":"D2","g":"ATN","v":13,"s":8},
{"p":"D2","g":"ATC","v":39,"s":2},{"p":"D2","g":"ATC","v":29,"s":6},{"p":"D2","g":"ATC","v":27,"s":3},{"p":"D2","g":"ATC","v":26,"s":8},{"p":"D2","g":"ATC","v":23,"s":1},{"p":"D2","g":"ATC","v":20,"s":5},{"p":"D2","g":"ATC","v":14,"s":4},
{"p":"E1","g":"YPN","v":39.5,"s":4},{"p":"E1","g":"YPN","v":31,"s":1},{"p":"E1","g":"YPN","v":30,"s":7},{"p":"E1","g":"YPN","v":28.5,"s":3},{"p":"E1","g":"YPN","v":26,"s":6},{"p":"E1","g":"YPN","v":24.5,"s":2},{"p":"E1","g":"YPN","v":21,"s":8},
{"p":"E1","g":"YPC","v":49.5,"s":2},{"p":"E1","g":"YPC","v":36.5,"s":6},{"p":"E1","g":"YPC","v":36,"s":3},{"p":"E1","g":"YPC","v":35,"s":8},{"p":"E1","g":"YPC","v":24.5,"s":1},{"p":"E1","g":"YPC","v":21.5,"s":5},
{"p":"E1","g":"YTN","v":41.5,"s":6},{"p":"E1","g":"YTN","v":33.5,"s":3},{"p":"E1","g":"YTN","v":30.5,"s":1},{"p":"E1","g":"YTN","v":29.5,"s":5},{"p":"E1","g":"YTN","v":28,"s":8},{"p":"E1","g":"YTN","v":26,"s":4},{"p":"E1","g":"YTN","v":25.5,"s":2},{"p":"E1","g":"YTN","v":22,"s":7},
{"p":"E1","g":"YTC","v":45,"s":4},{"p":"E1","g":"YTC","v":44,"s":1},{"p":"E1","g":"YTC","v":37.5,"s":7},{"p":"E1","g":"YTC","v":35,"s":3},{"p":"E1","g":"YTC","v":32,"s":6},{"p":"E1","g":"YTC","v":28,"s":2},{"p":"E1","g":"YTC","v":24,"s":8},
{"p":"E1","g":"APN","v":34,"s":2},{"p":"E1","g":"APN","v":28.5,"s":6},{"p":"E1","g":"APN","v":25,"s":3},{"p":"E1","g":"APN","v":24.5,"s":8},{"p":"E1","g":"APN","v":24.5,"s":1},{"p":"E1","g":"APN","v":24.5,"s":5},
{"p":"E1","g":"APC","v":39.5,"s":6},{"p":"E1","g":"APC","v":35,"s":3},{"p":"E1","g":"APC","v":30.5,"s":1},{"p":"E1","g":"APC","v":28.5,"s":5},{"p":"E1","g":"APC","v":28.5,"s":8},{"p":"E1","g":"APC","v":25.5,"s":4},
{"p":"E1","g":"ATN","v":40,"s":4},{"p":"E1","g":"ATN","v":35,"s":1},{"p":"E1","g":"ATN","v":31,"s":7},{"p":"E1","g":"ATN","v":30.5,"s":3},{"p":"E1","g":"ATN","v":30,"s":6},{"p":"E1","g":"ATN","v":29,"s":2},{"p":"E1","g":"ATN","v":23.5,"s":8},
{"p":"E1","g":"ATC","v":50.5,"s":2},{"p":"E1","g":"ATC","v":48,"s":6},{"p":"E1","g":"ATC","v":35.5,"s":3},{"p":"E1","g":"ATC","v":35,"s":8},{"p":"E1","g":"ATC","v":33.5,"s":1},{"p":"E1","g":"ATC","v":29,"s":5},{"p":"E1","g":"ATC","v":27,"s":4},
{"p":"E2","g":"YPN","v":38.5,"s":4},{"p":"E2","g":"YPN","v":32.5,"s":1},{"p":"E2","g":"YPN","v":29,"s":7},{"p":"E2","g":"YPN","v":28,"s":3},{"p":"E2","g":"YPN","v":27,"s":6},{"p":"E2","g":"YPN","v":26.5,"s":2},{"p":"E2","g":"YPN","v":23,"s":8},
{"p":"E2","g":"YPC","v":59,"s":2},{"p":"E2","g":"YPC","v":49,"s":6},{"p":"E2","g":"YPC","v":34.5,"s":3},{"p":"E2","g":"YPC","v":33,"s":8},{"p":"E2","g":"YPC","v":31,"s":1},{"p":"E2","g":"YPC","v":27.5,"s":5},{"p":"E2","g":"YPC","v":27,"s":4},
{"p":"E2","g":"YTN","v":38.5,"s":6},{"p":"E2","g":"YTN","v":35.5,"s":3},{"p":"E2","g":"YTN","v":29,"s":1},{"p":"E2","g":"YTN","v":26,"s":5},{"p":"E2","g":"YTN","v":25.5,"s":8},{"p":"E2","g":"YTN","v":25,"s":4},{"p":"E2","g":"YTN","v":23,"s":2},
{"p":"E2","g":"YTC","v":58,"s":4},{"p":"E2","g":"YTC","v":49,"s":1},{"p":"E2","g":"YTC","v":33,"s":7},{"p":"E2","g":"YTC","v":32.5,"s":3},{"p":"E2","g":"YTC","v":31,"s":6},{"p":"E2","g":"YTC","v":29,"s":2},{"p":"E2","g":"YTC","v":26.5,"s":8},
{"p":"E2","g":"APN","v":45,"s":2},{"p":"E2","g":"APN","v":33,"s":6},{"p":"E2","g":"APN","v":27,"s":3},{"p":"E2","g":"APN","v":26,"s":8},{"p":"E2","g":"APN","v":22.5,"s":1},{"p":"E2","g":"APN","v":21,"s":5},
{"p":"E2","g":"APC","v":48.5,"s":6},{"p":"E2","g":"APC","v":38,"s":3},{"p":"E2","g":"APC","v":29.5,"s":1},{"p":"E2","g":"APC","v":27.5,"s":5},{"p":"E2","g":"APC","v":27,"s":8},{"p":"E2","g":"APC","v":23.5,"s":4},
{"p":"E2","g":"ATN","v":53,"s":4},{"p":"E2","g":"ATN","v":39,"s":1},{"p":"E2","g":"ATN","v":27.5,"s":7},{"p":"E2","g":"ATN","v":27,"s":3},{"p":"E2","g":"ATN","v":26.5,"s":6},{"p":"E2","g":"ATN","v":24,"s":2},{"p":"E2","g":"ATN","v":21.5,"s":8},
{"p":"E2","g":"ATC","v":57.5,"s":2},{"p":"E2","g":"ATC","v":44.5,"s":6},{"p":"E2","g":"ATC","v":29.5,"s":3},{"p":"E2","g":"ATC","v":28,"s":8},{"p":"E2","g":"ATC","v":27,"s":1},{"p":"E2","g":"ATC","v":23,"s":5},
{"p":"F1","g":"YPN","v":42,"s":4},{"p":"F1","g":"YPN","v":34.5,"s":1},{"p":"F1","g":"YPN","v":33,"s":7},{"p":"F1","g":"YPN","v":32,"s":3},{"p":"F1","g":"YPN","v":30,"s":6},{"p":"F1","g":"YPN","v":26,"s":2},{"p":"F1","g":"YPN","v":25.5,"s":8},
{"p":"F1","g":"YPC","v":52,"s":2},{"p":"F1","g":"YPC","v":50,"s":6},{"p":"F1","g":"YPC","v":45,"s":3},{"p":"F1","g":"YPC","v":39.5,"s":8},{"p":"F1","g":"YPC","v":37,"s":1},{"p":"F1","g":"YPC","v":34,"s":5},{"p":"F1","g":"YPC","v":32.5,"s":4},{"p":"F1","g":"YPC","v":20,"s":7},
{"p":"F1","g":"YTN","v":38,"s":6},{"p":"F1","g":"YTN","v":37,"s":3},{"p":"F1","g":"YTN","v":33,"s":1},{"p":"F1","g":"YTN","v":32,"s":5},{"p":"F1","g":"YTN","v":29,"s":8},{"p":"F1","g":"YTN","v":27,"s":4},{"p":"F1","g":"YTN","v":25,"s":2},
{"p":"F1","g":"YTC","v":41.5,"s":4},{"p":"F1","g":"YTC","v":41,"s":1},{"p":"F1","g":"YTC","v":36.5,"s":7},{"p":"F1","g":"YTC","v":35.5,"s":3},{"p":"F1","g":"YTC","v":25,"s":6},{"p":"F1","g":"YTC","v":24,"s":2},{"p":"F1","g":"YTC","v":20,"s":8},
{"p":"F1","g":"APN","v":32.5,"s":2},{"p":"F1","g":"APN","v":31,"s":6},{"p":"F1","g":"APN","v":29,"s":3},{"p":"F1","g":"APN","v":24,"s":8},{"p":"F1","g":"APN","v":21,"s":1},{"p":"F1","g":"APN","v":18,"s":5},
{"p":"F1","g":"APC","v":44,"s":6},{"p":"F1","g":"APC","v":43,"s":3},{"p":"F1","g":"APC","v":33.5,"s":1},{"p":"F1","g":"APC","v":28.5,"s":5},{"p":"F1","g":"APC","v":28,"s":8},{"p":"F1","g":"APC","v":27.5,"s":4},{"p":"F1","g":"APC","v":25,"s":2},
{"p":"F1","g":"ATN","v":34,"s":4},{"p":"F1","g":"ATN","v":33.5,"s":1},{"p":"F1","g":"ATN","v":33.5,"s":7},{"p":"F1","g":"ATN","v":30,"s":3},{"p":"F1","g":"ATN","v":28.5,"s":6},{"p":"F1","g":"ATN","v":25.5,"s":2},
{"p":"F1","g":"ATC","v":52,"s":2},{"p":"F1","g":"ATC","v":44,"s":6},{"p":"F1","g":"ATC","v":36,"s":3},{"p":"F1","g":"ATC","v":33,"s":8},{"p":"F1","g":"ATC","v":27.5,"s":1},{"p":"F1","g":"ATC","v":26,"s":5},{"p":"F1","g":"ATC","v":24.5,"s":4},
{"p":"F2","g":"YPN","v":42,"s":4},{"p":"F2","g":"YPN","v":33,"s":1},{"p":"F2","g":"YPN","v":32.5,"s":7},{"p":"F2","g":"YPN","v":30.5,"s":3},{"p":"F2","g":"YPN","v":29.5,"s":6},{"p":"F2","g":"YPN","v":29,"s":2},{"p":"F2","g":"YPN","v":28.5,"s":8},{"p":"F2","g":"YPN","v":25,"s":5},
{"p":"F2","g":"YPC","v":53.5,"s":2},{"p":"F2","g":"YPC","v":52.5,"s":6},{"p":"F2","g":"YPC","v":37.5,"s":3},{"p":"F2","g":"YPC","v":37,"s":8},{"p":"F2","g":"YPC","v":36.5,"s":1},{"p":"F2","g":"YPC","v":32,"s":5},{"p":"F2","g":"YPC","v":28,"s":4},
{"p":"F2","g":"YTN","v":31.5,"s":6},{"p":"F2","g":"YTN","v":31,"s":3},{"p":"F2","g":"YTN","v":30,"s":1},{"p":"F2","g":"YTN","v":29,"s":5},{"p":"F2","g":"YTN","v":28,"s":8},{"p":"F2","g":"YTN","v":27,"s":4},{"p":"F2","g":"YTN","v":25,"s":2},
{"p":"F2","g":"YTC","v":48,"s":4},{"p":"F2","g":"YTC","v":41.5,"s":1},{"p":"F2","g":"YTC","v":36,"s":7},{"p":"F2","g":"YTC","v":35.5,"s":3},{"p":"F2","g":"YTC","v":35,"s":6},{"p":"F2","g":"YTC","v":33.5,"s":2},{"p":"F2","g":"YTC","v":29.5,"s":8},{"p":"F2","g":"YTC","v":26.5,"s":5},
{"p":"F2","g":"APN","v":36,"s":2},{"p":"F2","g":"APN","v":28.5,"s":6},{"p":"F2","g":"APN","v":28.5,"s":3},{"p":"F2","g":"APN","v":28.5,"s":8},{"p":"F2","g":"APN","v":25.5,"s":1},{"p":"F2","g":"APN","v":17.5,"s":5},
{"p":"F2","g":"APC","v":38,"s":6},{"p":"F2","g":"APC","v":36,"s":3},{"p":"F2","g":"APC","v":32,"s":1},{"p":"F2","g":"APC","v":27,"s":5},{"p":"F2","g":"APC","v":26.5,"s":8},{"p":"F2","g":"APC","v":23.5,"s":4},
{"p":"F2","g":"ATN","v":43,"s":4},{"p":"F2","g":"ATN","v":32.5,"s":1},{"p":"F2","g":"ATN","v":27,"s":7},{"p":"F2","g":"ATN","v":26,"s":3},{"p":"F2","g":"ATN","v":24.5,"s":6},{"p":"F2","g":"ATN","v":24,"s":2},{"p":"F2","g":"ATN","v":21,"s":8},
{"p":"F2","g":"ATC","v":52,"s":2},{"p":"F2","g":"ATC","v":40,"s":6},{"p":"F2","g":"ATC","v":35,"s":3},{"p":"F2","g":"ATC","v":34,"s":8},{"p":"F2","g":"ATC","v":33.5,"s":1},{"p":"F2","g":"ATC","v":27,"s":5},{"p":"F2","g":"ATC","v":20,"s":4}
]
},
"vconcat":[
{"hconcat":[
 {"width":502,"height":1,"data":{"values":[]},"mark":"point","title":{"text":"CA1","anchor":"middle","fontSize":28,"offset":4}},
 {"width":600,"height":1,"data":{"values":[]},"mark":"point","title":{"text":"CA3","anchor":"middle","fontSize":28,"offset":4,"dx":55}}
 ],"spacing":10},
{"columns":5,"align":"each","spacing":{"row":-11,"column":10},
 "concat":[
 {"width":230,"height":232,
  "title":{"text":["\u200b\u00a0\u00a0\u00a0\u00a0\u00a0\u00a0\u00a0\u00a0\u00a0Day 1: Novel","A(i)"],"subtitle":"\u200b\u00a0\u00a0\u00a0\u00a0\u00a0Ripple Frequency","fontSize":27,"lineHeight":38,"subtitlePadding":10,"dx":-29,"offset":9},
  "encoding":{"x":{"field":"g","type":"nominal","scale":{"domain":["YPN","YPC","YTN","YTC","gap","APN","APC","ATN","ATC"],"paddingInner":0,"paddingOuter":0.5},"axis":{"values":["YTN","ATN"],"bandPosition":0,"labelExpr":"datum.value=='YTN'?'Young':'Aged'"},"title":["* Age","# Rest Epoch","* Age x Rest Epoch","# Co-Occurrence"]}},
  "layer":[
   {"data":{"name":"box"},"transform":[{"filter":"datum.p=='A1'&&(datum.g=='YTN'||datum.g=='ATN')"}],"mark":{"type":"rule","color":"#a0a0a0","strokeWidth":1.5},"encoding":{"x":{"field":"g","type":"nominal","bandPosition":0,"scale":{"domain":["YPN","YPC","YTN","YTC","gap","APN","APC","ATN","ATC"],"paddingInner":0,"paddingOuter":0.5},"axis":{"values":["YTN","ATN"],"bandPosition":0,"labelExpr":"datum.value=='YTN'?'Young':'Aged'"},"title":["* Age","# Rest Epoch","* Age x Rest Epoch","# Co-Occurrence"]}}},
   {"data":{"name":"box"},"transform":[{"filter":"datum.p=='A1'"}],"mark":{"type":"rule","strokeDash":[5,3],"strokeWidth":1.5},"encoding":{"y":{"field":"lo","type":"quantitative","scale":{"domain":[120,200],"nice":false,"zero":false},"axis":{"values":[120,140,160,180,200],"labelOverlap":false},"title":"Frequency (Hz)"},"y2":{"field":"hi"},"color":{"field":"g","legend":null}}},
   {"data":{"name":"box"},"transform":[{"filter":"datum.p=='A1'"}],"mark":{"type":"tick","size":8,"thickness":1.5},"encoding":{"y":{"field":"lo","type":"quantitative","axis":{"values":[120,140,160,180,200],"labelOverlap":false},"title":"Frequency (Hz)"},"color":{"field":"g","legend":null}}},
   {"data":{"name":"box"},"transform":[{"filter":"datum.p=='A1'"}],"mark":{"type":"tick","size":8,"thickness":1.5},"encoding":{"y":{"field":"hi","type":"quantitative","axis":{"values":[120,140,160,180,200],"labelOverlap":false},"title":"Frequency (Hz)"},"color":{"field":"g","legend":null}}},
   {"data":{"name":"box"},"transform":[{"filter":"datum.p=='A1'"}],"mark":{"type":"bar","size":17,"strokeWidth":1.5,"opacity":1},"encoding":{"y":{"field":"q1","type":"quantitative","axis":{"values":[120,140,160,180,200],"labelOverlap":false},"title":"Frequency (Hz)"},"y2":{"field":"q3"},"stroke":{"field":"g","legend":null},"fill":{"field":"g","scale":{"domain":["YPN","YPC","YTN","YTC","APN","APC","ATN","ATC"],"range":["#ffffff","#ffffff","#cacaf2","#cacaf2","#ffffff","#ffffff","#f6cdd8","#f6cdd8"]},"legend":null}}},
   {"data":{"name":"box"},"transform":[{"filter":"datum.p=='A1'"}],"mark":{"type":"tick","size":17,"thickness":1.5},"encoding":{"y":{"field":"md","type":"quantitative","axis":{"values":[120,140,160,180,200],"labelOverlap":false},"title":"Frequency (Hz)"},"color":{"field":"g","legend":null}}},
   {"data":{"name":"pts"},"transform":[{"filter":"datum.p=='A1'"}],"mark":{"type":"circle","size":38,"opacity":1},"encoding":{"y":{"field":"v","type":"quantitative","axis":{"values":[120,140,160,180,200],"labelOverlap":false},"title":"Frequency (Hz)"},"xOffset":{"field":"s","type":"nominal","scale":{"type":"point","domain":[1,2,3,4,5,6,7,8],"range":[5.5,17.5],"padding":0}},"color":{"field":"g","legend":null}}},
   {"data":{"name":"ep"},"mark":{"type":"text","fontSize":18,"lineBreak":"\n","lineHeight":19,"baseline":"middle","align":"center"},"encoding":{"x":{"field":"g","type":"nominal","bandPosition":0,"scale":{"domain":["YPN","YPC","YTN","YTC","gap","APN","APC","ATN","ATC"],"paddingInner":0,"paddingOuter":0.5},"axis":{"values":["YTN","ATN"],"bandPosition":0,"labelExpr":"datum.value=='YTN'?'Young':'Aged'"},"title":["* Age","# Rest Epoch","* Age x Rest Epoch","# Co-Occurrence"]},"y":{"datum":130.3,"type":"quantitative","axis":{"values":[120,140,160,180,200],"labelOverlap":false},"title":"Frequency (Hz)"},"text":{"field":"t"}}},
   {"data":{"name":"cd"},"mark":{"type":"text","fontSize":17,"fontWeight":"bold","angle":315,"baseline":"middle","align":"center"},"encoding":{"y":{"datum":202.5,"type":"quantitative","axis":{"values":[120,140,160,180,200],"labelOverlap":false},"title":"Frequency (Hz)"},"text":{"field":"t"}}}
  ]},
 {"width":230,"height":232,
  "title":{"text":["\u200b\u00a0\u00a0\u00a0\u00a0Day 2: Familiar","(ii)"],"subtitle":"\u200b\u00a0\u00a0\u00a0\u00a0Ripple Frequency","fontSize":27,"lineHeight":38,"subtitlePadding":10,"dx":-18,"offset":9},
  "encoding":{"x":{"field":"g","type":"nominal","scale":{"domain":["YPN","YPC","YTN","YTC","gap","APN","APC","ATN","ATC"],"paddingInner":0,"paddingOuter":0.5},"axis":{"values":["YTN","ATN"],"bandPosition":0,"labelExpr":"datum.value=='YTN'?'Young':'Aged'"},"title":"* Age"}},
  "layer":[
   {"data":{"name":"box"},"transform":[{"filter":"datum.p=='A2'&&(datum.g=='YTN'||datum.g=='ATN')"}],"mark":{"type":"rule","color":"#a0a0a0","strokeWidth":1.5},"encoding":{"x":{"field":"g","type":"nominal","bandPosition":0,"scale":{"domain":["YPN","YPC","YTN","YTC","gap","APN","APC","ATN","ATC"],"paddingInner":0,"paddingOuter":0.5},"axis":{"values":["YTN","ATN"],"bandPosition":0,"labelExpr":"datum.value=='YTN'?'Young':'Aged'"},"title":"* Age"}}},
   {"data":{"name":"box"},"transform":[{"filter":"datum.p=='A2'"}],"mark":{"type":"rule","strokeDash":[5,3],"strokeWidth":1.5},"encoding":{"y":{"field":"lo","type":"quantitative","scale":{"domain":[120,200],"nice":false,"zero":false},"axis":{"values":[120,140,160,180,200],"labelOverlap":false},"title":"Frequency (Hz)"},"y2":{"field":"hi"},"color":{"field":"g","legend":null}}},
   {"data":{"name":"box"},"transform":[{"filter":"datum.p=='A2'"}],"mark":{"type":"tick","size":8,"thickness":1.5},"encoding":{"y":{"field":"lo","type":"quantitative","axis":{"values":[120,140,160,180,200],"labelOverlap":false},"title":"Frequency (Hz)"},"color":{"field":"g","legend":null}}},
   {"data":{"name":"box"},"transform":[{"filter":"datum.p=='A2'"}],"mark":{"type":"tick","size":8,"thickness":1.5},"encoding":{"y":{"field":"hi","type":"quantitative","axis":{"values":[120,140,160,180,200],"labelOverlap":false},"title":"Frequency (Hz)"},"color":{"field":"g","legend":null}}},
   {"data":{"name":"box"},"transform":[{"filter":"datum.p=='A2'"}],"mark":{"type":"bar","size":17,"strokeWidth":1.5,"opacity":1},"encoding":{"y":{"field":"q1","type":"quantitative","axis":{"values":[120,140,160,180,200],"labelOverlap":false},"title":"Frequency (Hz)"},"y2":{"field":"q3"},"stroke":{"field":"g","legend":null},"fill":{"field":"g","scale":{"domain":["YPN","YPC","YTN","YTC","APN","APC","ATN","ATC"],"range":["#ffffff","#ffffff","#cacaf2","#cacaf2","#ffffff","#ffffff","#f6cdd8","#f6cdd8"]},"legend":null}}},
   {"data":{"name":"box"},"transform":[{"filter":"datum.p=='A2'"}],"mark":{"type":"tick","size":17,"thickness":1.5},"encoding":{"y":{"field":"md","type":"quantitative","axis":{"values":[120,140,160,180,200],"labelOverlap":false},"title":"Frequency (Hz)"},"color":{"field":"g","legend":null}}},
   {"data":{"name":"pts"},"transform":[{"filter":"datum.p=='A2'"}],"mark":{"type":"circle","size":38,"opacity":1},"encoding":{"y":{"field":"v","type":"quantitative","axis":{"values":[120,140,160,180,200],"labelOverlap":false},"title":"Frequency (Hz)"},"xOffset":{"field":"s","type":"nominal","scale":{"type":"point","domain":[1,2,3,4,5,6,7,8],"range":[5.5,17.5],"padding":0}},"color":{"field":"g","legend":null}}},
   {"data":{"name":"ep"},"mark":{"type":"text","fontSize":18,"lineBreak":"\n","lineHeight":19,"baseline":"middle","align":"center"},"encoding":{"x":{"field":"g","type":"nominal","bandPosition":0,"scale":{"domain":["YPN","YPC","YTN","YTC","gap","APN","APC","ATN","ATC"],"paddingInner":0,"paddingOuter":0.5},"axis":{"values":["YTN","ATN"],"bandPosition":0,"labelExpr":"datum.value=='YTN'?'Young':'Aged'"},"title":"* Age"},"y":{"datum":130.3,"type":"quantitative","axis":{"values":[120,140,160,180,200],"labelOverlap":false},"title":"Frequency (Hz)"},"text":{"field":"t"}}},
   {"data":{"name":"cd"},"mark":{"type":"text","fontSize":17,"fontWeight":"bold","angle":315,"baseline":"middle","align":"center"},"encoding":{"y":{"datum":202.5,"type":"quantitative","axis":{"values":[120,140,160,180,200],"labelOverlap":false},"title":"Frequency (Hz)"},"text":{"field":"t"}}}
  ]},
 {"width":23,"height":10,"data":{"values":[]},"mark":"point"},
 {"width":230,"height":232,
  "title":{"text":["\u200b\u00a0\u00a0\u00a0\u00a0\u00a0\u00a0\u00a0\u00a0Day 1: Novel","B(i)"],"subtitle":"\u200b\u00a0\u00a0\u00a0\u00a0\u00a0Ripple Frequency","fontSize":27,"lineHeight":38,"subtitlePadding":10,"dx":-30,"offset":2},
  "encoding":{"x":{"field":"g","type":"nominal","scale":{"domain":["YPN","YPC","YTN","YTC","gap","APN","APC","ATN","ATC"],"paddingInner":0,"paddingOuter":0.5},"axis":{"values":["YTN","ATN"],"bandPosition":0,"labelExpr":"datum.value=='YTN'?'Young':'Aged'"},"title":"*** Co-Occurrence"}},
  "layer":[
   {"data":{"name":"box"},"transform":[{"filter":"datum.p=='B1'&&(datum.g=='YTN'||datum.g=='ATN')"}],"mark":{"type":"rule","color":"#a0a0a0","strokeWidth":1.5},"encoding":{"x":{"field":"g","type":"nominal","bandPosition":0,"scale":{"domain":["YPN","YPC","YTN","YTC","gap","APN","APC","ATN","ATC"],"paddingInner":0,"paddingOuter":0.5},"axis":{"values":["YTN","ATN"],"bandPosition":0,"labelExpr":"datum.value=='YTN'?'Young':'Aged'"},"title":"*** Co-Occurrence"}}},
   {"data":{"name":"box"},"transform":[{"filter":"datum.p=='B1'"}],"mark":{"type":"rule","strokeDash":[5,3],"strokeWidth":1.5},"encoding":{"y":{"field":"lo","type":"quantitative","scale":{"domain":[120,200],"nice":false,"zero":false},"axis":{"values":[120,140,160,180,200],"labelOverlap":false},"title":"Frequency (Hz)"},"y2":{"field":"hi"},"color":{"field":"g","legend":null}}},
   {"data":{"name":"box"},"transform":[{"filter":"datum.p=='B1'"}],"mark":{"type":"tick","size":8,"thickness":1.5},"encoding":{"y":{"field":"lo","type":"quantitative","axis":{"values":[120,140,160,180,200],"labelOverlap":false},"title":"Frequency (Hz)"},"color":{"field":"g","legend":null}}},
   {"data":{"name":"box"},"transform":[{"filter":"datum.p=='B1'"}],"mark":{"type":"tick","size":8,"thickness":1.5},"encoding":{"y":{"field":"hi","type":"quantitative","axis":{"values":[120,140,160,180,200],"labelOverlap":false},"title":"Frequency (Hz)"},"color":{"field":"g","legend":null}}},
   {"data":{"name":"box"},"transform":[{"filter":"datum.p=='B1'"}],"mark":{"type":"bar","size":17,"strokeWidth":1.5,"opacity":1},"encoding":{"y":{"field":"q1","type":"quantitative","axis":{"values":[120,140,160,180,200],"labelOverlap":false},"title":"Frequency (Hz)"},"y2":{"field":"q3"},"stroke":{"field":"g","legend":null},"fill":{"field":"g","scale":{"domain":["YPN","YPC","YTN","YTC","APN","APC","ATN","ATC"],"range":["#ffffff","#ffffff","#cacaf2","#cacaf2","#ffffff","#ffffff","#f6cdd8","#f6cdd8"]},"legend":null}}},
   {"data":{"name":"box"},"transform":[{"filter":"datum.p=='B1'"}],"mark":{"type":"tick","size":17,"thickness":1.5},"encoding":{"y":{"field":"md","type":"quantitative","axis":{"values":[120,140,160,180,200],"labelOverlap":false},"title":"Frequency (Hz)"},"color":{"field":"g","legend":null}}},
   {"data":{"name":"pts"},"transform":[{"filter":"datum.p=='B1'"}],"mark":{"type":"circle","size":38,"opacity":1},"encoding":{"y":{"field":"v","type":"quantitative","axis":{"values":[120,140,160,180,200],"labelOverlap":false},"title":"Frequency (Hz)"},"xOffset":{"field":"s","type":"nominal","scale":{"type":"point","domain":[1,2,3,4,5,6,7,8],"range":[5.5,17.5],"padding":0}},"color":{"field":"g","legend":null}}},
   {"data":{"name":"ep"},"mark":{"type":"text","fontSize":18,"lineBreak":"\n","lineHeight":19,"baseline":"middle","align":"center"},"encoding":{"x":{"field":"g","type":"nominal","bandPosition":0,"scale":{"domain":["YPN","YPC","YTN","YTC","gap","APN","APC","ATN","ATC"],"paddingInner":0,"paddingOuter":0.5},"axis":{"values":["YTN","ATN"],"bandPosition":0,"labelExpr":"datum.value=='YTN'?'Young':'Aged'"},"title":"*** Co-Occurrence"},"y":{"datum":207.9,"type":"quantitative","axis":{"values":[120,140,160,180,200],"labelOverlap":false},"title":"Frequency (Hz)"},"text":{"field":"t"}}},
   {"data":{"name":"cd"},"mark":{"type":"text","fontSize":17,"fontWeight":"bold","angle":315,"baseline":"middle","align":"center"},"encoding":{"y":{"datum":193.4,"type":"quantitative","axis":{"values":[120,140,160,180,200],"labelOverlap":false},"title":"Frequency (Hz)"},"text":{"field":"t"}}}
  ]},
 {"width":230,"height":232,
  "title":{"text":["\u200b\u00a0\u00a0\u00a0\u00a0Day 2: Familiar","(ii)"],"subtitle":"\u200b\u00a0\u00a0\u00a0Ripple Frequency","fontSize":27,"lineHeight":38,"subtitlePadding":10,"dx":-18,"offset":2},
  "encoding":{"x":{"field":"g","type":"nominal","scale":{"domain":["YPN","YPC","YTN","YTC","gap","APN","APC","ATN","ATC"],"paddingInner":0,"paddingOuter":0.5},"axis":{"values":["YTN","ATN"],"bandPosition":0,"labelExpr":"datum.value=='YTN'?'Young':'Aged'"},"title":"# Co-Occurrence"}},
  "layer":[
   {"data":{"name":"box"},"transform":[{"filter":"datum.p=='B2'&&(datum.g=='YTN'||datum.g=='ATN')"}],"mark":{"type":"rule","color":"#a0a0a0","strokeWidth":1.5},"encoding":{"x":{"field":"g","type":"nominal","bandPosition":0,"scale":{"domain":["YPN","YPC","YTN","YTC","gap","APN","APC","ATN","ATC"],"paddingInner":0,"paddingOuter":0.5},"axis":{"values":["YTN","ATN"],"bandPosition":0,"labelExpr":"datum.value=='YTN'?'Young':'Aged'"},"title":"# Co-Occurrence"}}},
   {"data":{"name":"box"},"transform":[{"filter":"datum.p=='B2'"}],"mark":{"type":"rule","strokeDash":[5,3],"strokeWidth":1.5},"encoding":{"y":{"field":"lo","type":"quantitative","scale":{"domain":[120,200],"nice":false,"zero":false},"axis":{"values":[120,140,160,180,200],"labelOverlap":false},"title":"Frequency (Hz)"},"y2":{"field":"hi"},"color":{"field":"g","legend":null}}},
   {"data":{"name":"box"},"transform":[{"filter":"datum.p=='B2'"}],"mark":{"type":"tick","size":8,"thickness":1.5},"encoding":{"y":{"field":"lo","type":"quantitative","axis":{"values":[120,140,160,180,200],"labelOverlap":false},"title":"Frequency (Hz)"},"color":{"field":"g","legend":null}}},
   {"data":{"name":"box"},"transform":[{"filter":"datum.p=='B2'"}],"mark":{"type":"tick","size":8,"thickness":1.5},"encoding":{"y":{"field":"hi","type":"quantitative","axis":{"values":[120,140,160,180,200],"labelOverlap":false},"title":"Frequency (Hz)"},"color":{"field":"g","legend":null}}},
   {"data":{"name":"box"},"transform":[{"filter":"datum.p=='B2'"}],"mark":{"type":"bar","size":17,"strokeWidth":1.5,"opacity":1},"encoding":{"y":{"field":"q1","type":"quantitative","axis":{"values":[120,140,160,180,200],"labelOverlap":false},"title":"Frequency (Hz)"},"y2":{"field":"q3"},"stroke":{"field":"g","legend":null},"fill":{"field":"g","scale":{"domain":["YPN","YPC","YTN","YTC","APN","APC","ATN","ATC"],"range":["#ffffff","#ffffff","#cacaf2","#cacaf2","#ffffff","#ffffff","#f6cdd8","#f6cdd8"]},"legend":null}}},
   {"data":{"name":"box"},"transform":[{"filter":"datum.p=='B2'"}],"mark":{"type":"tick","size":17,"thickness":1.5},"encoding":{"y":{"field":"md","type":"quantitative","axis":{"values":[120,140,160,180,200],"labelOverlap":false},"title":"Frequency (Hz)"},"color":{"field":"g","legend":null}}},
   {"data":{"name":"pts"},"transform":[{"filter":"datum.p=='B2'"}],"mark":{"type":"circle","size":38,"opacity":1},"encoding":{"y":{"field":"v","type":"quantitative","axis":{"values":[120,140,160,180,200],"labelOverlap":false},"title":"Frequency (Hz)"},"xOffset":{"field":"s","type":"nominal","scale":{"type":"point","domain":[1,2,3,4,5,6,7,8],"range":[5.5,17.5],"padding":0}},"color":{"field":"g","legend":null}}},
   {"data":{"name":"ep"},"mark":{"type":"text","fontSize":18,"lineBreak":"\n","lineHeight":19,"baseline":"middle","align":"center"},"encoding":{"x":{"field":"g","type":"nominal","bandPosition":0,"scale":{"domain":["YPN","YPC","YTN","YTC","gap","APN","APC","ATN","ATC"],"paddingInner":0,"paddingOuter":0.5},"axis":{"values":["YTN","ATN"],"bandPosition":0,"labelExpr":"datum.value=='YTN'?'Young':'Aged'"},"title":"# Co-Occurrence"},"y":{"datum":207.9,"type":"quantitative","axis":{"values":[120,140,160,180,200],"labelOverlap":false},"title":"Frequency (Hz)"},"text":{"field":"t"}}},
   {"data":{"name":"cd"},"mark":{"type":"text","fontSize":17,"fontWeight":"bold","angle":315,"baseline":"middle","align":"center"},"encoding":{"y":{"datum":193,"type":"quantitative","axis":{"values":[120,140,160,180,200],"labelOverlap":false},"title":"Frequency (Hz)"},"text":{"field":"t"}}}
  ]},
 {"width":230,"height":228,
  "title":{"text":"C(i)","subtitle":"\u200b\u00a0\u00a0\u00a0\u00a0\u00a0\u00a0\u00a0\u00a0Ripple Power","fontSize":26,"subtitlePadding":-6,"dx":-30,"offset":2},
  "encoding":{"x":{"field":"g","type":"nominal","scale":{"domain":["YPN","YPC","YTN","YTC","gap","APN","APC","ATN","ATC"],"paddingInner":0,"paddingOuter":0.5},"axis":{"values":["YTN","ATN"],"bandPosition":0,"labelExpr":"datum.value=='YTN'?'Young':'Aged'","titlePadding":7},"title":"*** Co-Occurrence"}},
  "layer":[
   {"data":{"name":"box"},"transform":[{"filter":"datum.p=='C1'&&(datum.g=='YTN'||datum.g=='ATN')"}],"mark":{"type":"rule","color":"#a0a0a0","strokeWidth":1.5},"encoding":{"x":{"field":"g","type":"nominal","bandPosition":0,"scale":{"domain":["YPN","YPC","YTN","YTC","gap","APN","APC","ATN","ATC"],"paddingInner":0,"paddingOuter":0.5},"axis":{"values":["YTN","ATN"],"bandPosition":0,"labelExpr":"datum.value=='YTN'?'Young':'Aged'","titlePadding":7},"title":"*** Co-Occurrence"}}},
   {"data":{"name":"box"},"transform":[{"filter":"datum.p=='C1'"}],"mark":{"type":"rule","strokeDash":[5,3],"strokeWidth":1.5},"encoding":{"y":{"field":"lo","type":"quantitative","scale":{"domain":[0,150],"nice":false,"zero":false},"axis":{"values":[0,50,100,150],"labelOverlap":false},"title":"Pow (mV²/sec)"},"y2":{"field":"hi"},"color":{"field":"g","legend":null}}},
   {"data":{"name":"box"},"transform":[{"filter":"datum.p=='C1'"}],"mark":{"type":"tick","size":8,"thickness":1.5},"encoding":{"y":{"field":"lo","type":"quantitative","axis":{"values":[0,50,100,150],"labelOverlap":false},"title":"Pow (mV²/sec)"},"color":{"field":"g","legend":null}}},
   {"data":{"name":"box"},"transform":[{"filter":"datum.p=='C1'"}],"mark":{"type":"tick","size":8,"thickness":1.5},"encoding":{"y":{"field":"hi","type":"quantitative","axis":{"values":[0,50,100,150],"labelOverlap":false},"title":"Pow (mV²/sec)"},"color":{"field":"g","legend":null}}},
   {"data":{"name":"box"},"transform":[{"filter":"datum.p=='C1'"}],"mark":{"type":"bar","size":17,"strokeWidth":1.5,"opacity":1},"encoding":{"y":{"field":"q1","type":"quantitative","axis":{"values":[0,50,100,150],"labelOverlap":false},"title":"Pow (mV²/sec)"},"y2":{"field":"q3"},"stroke":{"field":"g","legend":null},"fill":{"field":"g","scale":{"domain":["YPN","YPC","YTN","YTC","APN","APC","ATN","ATC"],"range":["#ffffff","#ffffff","#cacaf2","#cacaf2","#ffffff","#ffffff","#f6cdd8","#f6cdd8"]},"legend":null}}},
   {"data":{"name":"box"},"transform":[{"filter":"datum.p=='C1'"}],"mark":{"type":"tick","size":17,"thickness":1.5},"encoding":{"y":{"field":"md","type":"quantitative","axis":{"values":[0,50,100,150],"labelOverlap":false},"title":"Pow (mV²/sec)"},"color":{"field":"g","legend":null}}},
   {"data":{"name":"pts"},"transform":[{"filter":"datum.p=='C1'"}],"mark":{"type":"circle","size":38,"opacity":1},"encoding":{"y":{"field":"v","type":"quantitative","axis":{"values":[0,50,100,150],"labelOverlap":false},"title":"Pow (mV²/sec)"},"xOffset":{"field":"s","type":"nominal","scale":{"type":"point","domain":[1,2,3,4,5,6,7,8],"range":[5.5,17.5],"padding":0}},"color":{"field":"g","legend":null}}},
   {"data":{"name":"ep"},"mark":{"type":"text","fontSize":18,"lineBreak":"\n","lineHeight":19,"baseline":"middle","align":"center"},"encoding":{"x":{"field":"g","type":"nominal","bandPosition":0,"scale":{"domain":["YPN","YPC","YTN","YTC","gap","APN","APC","ATN","ATC"],"paddingInner":0,"paddingOuter":0.5},"axis":{"values":["YTN","ATN"],"bandPosition":0,"labelExpr":"datum.value=='YTN'?'Young':'Aged'","titlePadding":7},"title":"*** Co-Occurrence"},"y":{"datum":168.4,"type":"quantitative","axis":{"values":[0,50,100,150],"labelOverlap":false},"title":"Pow (mV²/sec)"},"text":{"field":"t"}}},
   {"data":{"name":"cd"},"mark":{"type":"text","fontSize":17,"fontWeight":"bold","angle":315,"baseline":"middle","align":"center"},"encoding":{"y":{"datum":141,"type":"quantitative","axis":{"values":[0,50,100,150],"labelOverlap":false},"title":"Pow (mV²/sec)"},"text":{"field":"t"}}}
  ]},
 {"width":230,"height":228,
  "title":{"text":"(ii)","subtitle":"\u200b\u00a0\u00a0\u00a0\u00a0\u00a0\u00a0Ripple Power","fontSize":26,"subtitlePadding":-6,"dx":-17,"offset":2},
  "encoding":{"x":{"field":"g","type":"nominal","scale":{"domain":["YPN","YPC","YTN","YTC","gap","APN","APC","ATN","ATC"],"paddingInner":0,"paddingOuter":0.5},"axis":{"values":["YTN","ATN"],"bandPosition":0,"labelExpr":"datum.value=='YTN'?'Young':'Aged'","titlePadding":7},"title":"** Co-Occurrence"}},
  "layer":[
   {"data":{"name":"box"},"transform":[{"filter":"datum.p=='C2'&&(datum.g=='YTN'||datum.g=='ATN')"}],"mark":{"type":"rule","color":"#a0a0a0","strokeWidth":1.5},"encoding":{"x":{"field":"g","type":"nominal","bandPosition":0,"scale":{"domain":["YPN","YPC","YTN","YTC","gap","APN","APC","ATN","ATC"],"paddingInner":0,"paddingOuter":0.5},"axis":{"values":["YTN","ATN"],"bandPosition":0,"labelExpr":"datum.value=='YTN'?'Young':'Aged'","titlePadding":7},"title":"** Co-Occurrence"}}},
   {"data":{"name":"box"},"transform":[{"filter":"datum.p=='C2'"}],"mark":{"type":"rule","strokeDash":[5,3],"strokeWidth":1.5},"encoding":{"y":{"field":"lo","type":"quantitative","scale":{"domain":[0,150],"nice":false,"zero":false},"axis":{"values":[0,50,100,150],"labelOverlap":false},"title":"Pow (mV²/sec)"},"y2":{"field":"hi"},"color":{"field":"g","legend":null}}},
   {"data":{"name":"box"},"transform":[{"filter":"datum.p=='C2'"}],"mark":{"type":"tick","size":8,"thickness":1.5},"encoding":{"y":{"field":"lo","type":"quantitative","axis":{"values":[0,50,100,150],"labelOverlap":false},"title":"Pow (mV²/sec)"},"color":{"field":"g","legend":null}}},
   {"data":{"name":"box"},"transform":[{"filter":"datum.p=='C2'"}],"mark":{"type":"tick","size":8,"thickness":1.5},"encoding":{"y":{"field":"hi","type":"quantitative","axis":{"values":[0,50,100,150],"labelOverlap":false},"title":"Pow (mV²/sec)"},"color":{"field":"g","legend":null}}},
   {"data":{"name":"box"},"transform":[{"filter":"datum.p=='C2'"}],"mark":{"type":"bar","size":17,"strokeWidth":1.5,"opacity":1},"encoding":{"y":{"field":"q1","type":"quantitative","axis":{"values":[0,50,100,150],"labelOverlap":false},"title":"Pow (mV²/sec)"},"y2":{"field":"q3"},"stroke":{"field":"g","legend":null},"fill":{"field":"g","scale":{"domain":["YPN","YPC","YTN","YTC","APN","APC","ATN","ATC"],"range":["#ffffff","#ffffff","#cacaf2","#cacaf2","#ffffff","#ffffff","#f6cdd8","#f6cdd8"]},"legend":null}}},
   {"data":{"name":"box"},"transform":[{"filter":"datum.p=='C2'"}],"mark":{"type":"tick","size":17,"thickness":1.5},"encoding":{"y":{"field":"md","type":"quantitative","axis":{"values":[0,50,100,150],"labelOverlap":false},"title":"Pow (mV²/sec)"},"color":{"field":"g","legend":null}}},
   {"data":{"name":"pts"},"transform":[{"filter":"datum.p=='C2'"}],"mark":{"type":"circle","size":38,"opacity":1},"encoding":{"y":{"field":"v","type":"quantitative","axis":{"values":[0,50,100,150],"labelOverlap":false},"title":"Pow (mV²/sec)"},"xOffset":{"field":"s","type":"nominal","scale":{"type":"point","domain":[1,2,3,4,5,6,7,8],"range":[5.5,17.5],"padding":0}},"color":{"field":"g","legend":null}}},
   {"data":{"name":"ep"},"mark":{"type":"text","fontSize":18,"lineBreak":"\n","lineHeight":19,"baseline":"middle","align":"center"},"encoding":{"x":{"field":"g","type":"nominal","bandPosition":0,"scale":{"domain":["YPN","YPC","YTN","YTC","gap","APN","APC","ATN","ATC"],"paddingInner":0,"paddingOuter":0.5},"axis":{"values":["YTN","ATN"],"bandPosition":0,"labelExpr":"datum.value=='YTN'?'Young':'Aged'","titlePadding":7},"title":"** Co-Occurrence"},"y":{"datum":168.4,"type":"quantitative","axis":{"values":[0,50,100,150],"labelOverlap":false},"title":"Pow (mV²/sec)"},"text":{"field":"t"}}},
   {"data":{"name":"cd"},"mark":{"type":"text","fontSize":17,"fontWeight":"bold","angle":315,"baseline":"middle","align":"center"},"encoding":{"y":{"datum":141,"type":"quantitative","axis":{"values":[0,50,100,150],"labelOverlap":false},"title":"Pow (mV²/sec)"},"text":{"field":"t"}}}
  ]},
 {"width":23,"height":10,"data":{"values":[]},"mark":"point"},
 {"width":230,"height":228,
  "title":{"text":"D(i)","subtitle":"\u200b\u00a0\u00a0\u00a0\u00a0\u00a0\u00a0\u00a0\u00a0\u00a0Ripple Power","fontSize":26,"subtitlePadding":-6,"dx":-30,"offset":31},
  "encoding":{"x":{"field":"g","type":"nominal","scale":{"domain":["YPN","YPC","YTN","YTC","gap","APN","APC","ATN","ATC"],"paddingInner":0,"paddingOuter":0.5},"axis":{"values":["YTN","ATN"],"bandPosition":0,"labelExpr":"datum.value=='YTN'?'Young':'Aged'","titlePadding":7},"title":"** Co-Occurrence"}},
  "layer":[
   {"data":{"name":"box"},"transform":[{"filter":"datum.p=='D1'&&(datum.g=='YTN'||datum.g=='ATN')"}],"mark":{"type":"rule","color":"#a0a0a0","strokeWidth":1.5},"encoding":{"x":{"field":"g","type":"nominal","bandPosition":0,"scale":{"domain":["YPN","YPC","YTN","YTC","gap","APN","APC","ATN","ATC"],"paddingInner":0,"paddingOuter":0.5},"axis":{"values":["YTN","ATN"],"bandPosition":0,"labelExpr":"datum.value=='YTN'?'Young':'Aged'","titlePadding":7},"title":"** Co-Occurrence"}}},
   {"data":{"name":"box"},"transform":[{"filter":"datum.p=='D1'"}],"mark":{"type":"rule","strokeDash":[5,3],"strokeWidth":1.5},"encoding":{"y":{"field":"lo","type":"quantitative","scale":{"domain":[0,150],"nice":false,"zero":false},"axis":{"values":[0,50,100,150],"labelOverlap":false},"title":"Pow (mV²/sec)"},"y2":{"field":"hi"},"color":{"field":"g","legend":null}}},
   {"data":{"name":"box"},"transform":[{"filter":"datum.p=='D1'"}],"mark":{"type":"tick","size":8,"thickness":1.5},"encoding":{"y":{"field":"lo","type":"quantitative","axis":{"values":[0,50,100,150],"labelOverlap":false},"title":"Pow (mV²/sec)"},"color":{"field":"g","legend":null}}},
   {"data":{"name":"box"},"transform":[{"filter":"datum.p=='D1'"}],"mark":{"type":"tick","size":8,"thickness":1.5},"encoding":{"y":{"field":"hi","type":"quantitative","axis":{"values":[0,50,100,150],"labelOverlap":false},"title":"Pow (mV²/sec)"},"color":{"field":"g","legend":null}}},
   {"data":{"name":"box"},"transform":[{"filter":"datum.p=='D1'"}],"mark":{"type":"bar","size":17,"strokeWidth":1.5,"opacity":1},"encoding":{"y":{"field":"q1","type":"quantitative","axis":{"values":[0,50,100,150],"labelOverlap":false},"title":"Pow (mV²/sec)"},"y2":{"field":"q3"},"stroke":{"field":"g","legend":null},"fill":{"field":"g","scale":{"domain":["YPN","YPC","YTN","YTC","APN","APC","ATN","ATC"],"range":["#ffffff","#ffffff","#cacaf2","#cacaf2","#ffffff","#ffffff","#f6cdd8","#f6cdd8"]},"legend":null}}},
   {"data":{"name":"box"},"transform":[{"filter":"datum.p=='D1'"}],"mark":{"type":"tick","size":17,"thickness":1.5},"encoding":{"y":{"field":"md","type":"quantitative","axis":{"values":[0,50,100,150],"labelOverlap":false},"title":"Pow (mV²/sec)"},"color":{"field":"g","legend":null}}},
   {"data":{"name":"pts"},"transform":[{"filter":"datum.p=='D1'"}],"mark":{"type":"circle","size":38,"opacity":1},"encoding":{"y":{"field":"v","type":"quantitative","axis":{"values":[0,50,100,150],"labelOverlap":false},"title":"Pow (mV²/sec)"},"xOffset":{"field":"s","type":"nominal","scale":{"type":"point","domain":[1,2,3,4,5,6,7,8],"range":[5.5,17.5],"padding":0}},"color":{"field":"g","legend":null}}},
   {"data":{"name":"ep"},"mark":{"type":"text","fontSize":18,"lineBreak":"\n","lineHeight":19,"baseline":"middle","align":"center"},"encoding":{"x":{"field":"g","type":"nominal","bandPosition":0,"scale":{"domain":["YPN","YPC","YTN","YTC","gap","APN","APC","ATN","ATC"],"paddingInner":0,"paddingOuter":0.5},"axis":{"values":["YTN","ATN"],"bandPosition":0,"labelExpr":"datum.value=='YTN'?'Young':'Aged'","titlePadding":7},"title":"** Co-Occurrence"},"y":{"datum":146,"type":"quantitative","axis":{"values":[0,50,100,150],"labelOverlap":false},"title":"Pow (mV²/sec)"},"text":{"field":"t"}}},
   {"data":{"name":"cd"},"mark":{"type":"text","fontSize":17,"fontWeight":"bold","angle":315,"baseline":"middle","align":"center"},"encoding":{"y":{"datum":91,"type":"quantitative","axis":{"values":[0,50,100,150],"labelOverlap":false},"title":"Pow (mV²/sec)"},"text":{"field":"t"}}}
  ]},
 {"width":230,"height":228,
  "title":{"text":"(ii)","subtitle":"\u200b\u00a0\u00a0\u00a0\u00a0\u00a0\u00a0\u00a0Ripple Power","fontSize":26,"subtitlePadding":-6,"dx":-18,"offset":31},
  "encoding":{"x":{"field":"g","type":"nominal","scale":{"domain":["YPN","YPC","YTN","YTC","gap","APN","APC","ATN","ATC"],"paddingInner":0,"paddingOuter":0.5},"axis":{"values":["YTN","ATN"],"bandPosition":0,"labelExpr":"datum.value=='YTN'?'Young':'Aged'","titlePadding":7},"title":"** Co-Occurrence"}},
  "layer":[
   {"data":{"name":"box"},"transform":[{"filter":"datum.p=='D2'&&(datum.g=='YTN'||datum.g=='ATN')"}],"mark":{"type":"rule","color":"#a0a0a0","strokeWidth":1.5},"encoding":{"x":{"field":"g","type":"nominal","bandPosition":0,"scale":{"domain":["YPN","YPC","YTN","YTC","gap","APN","APC","ATN","ATC"],"paddingInner":0,"paddingOuter":0.5},"axis":{"values":["YTN","ATN"],"bandPosition":0,"labelExpr":"datum.value=='YTN'?'Young':'Aged'","titlePadding":7},"title":"** Co-Occurrence"}}},
   {"data":{"name":"box"},"transform":[{"filter":"datum.p=='D2'"}],"mark":{"type":"rule","strokeDash":[5,3],"strokeWidth":1.5},"encoding":{"y":{"field":"lo","type":"quantitative","scale":{"domain":[0,150],"nice":false,"zero":false},"axis":{"values":[0,50,100,150],"labelOverlap":false},"title":"Pow (mV²/sec)"},"y2":{"field":"hi"},"color":{"field":"g","legend":null}}},
   {"data":{"name":"box"},"transform":[{"filter":"datum.p=='D2'"}],"mark":{"type":"tick","size":8,"thickness":1.5},"encoding":{"y":{"field":"lo","type":"quantitative","axis":{"values":[0,50,100,150],"labelOverlap":false},"title":"Pow (mV²/sec)"},"color":{"field":"g","legend":null}}},
   {"data":{"name":"box"},"transform":[{"filter":"datum.p=='D2'"}],"mark":{"type":"tick","size":8,"thickness":1.5},"encoding":{"y":{"field":"hi","type":"quantitative","axis":{"values":[0,50,100,150],"labelOverlap":false},"title":"Pow (mV²/sec)"},"color":{"field":"g","legend":null}}},
   {"data":{"name":"box"},"transform":[{"filter":"datum.p=='D2'"}],"mark":{"type":"bar","size":17,"strokeWidth":1.5,"opacity":1},"encoding":{"y":{"field":"q1","type":"quantitative","axis":{"values":[0,50,100,150],"labelOverlap":false},"title":"Pow (mV²/sec)"},"y2":{"field":"q3"},"stroke":{"field":"g","legend":null},"fill":{"field":"g","scale":{"domain":["YPN","YPC","YTN","YTC","APN","APC","ATN","ATC"],"range":["#ffffff","#ffffff","#cacaf2","#cacaf2","#ffffff","#ffffff","#f6cdd8","#f6cdd8"]},"legend":null}}},
   {"data":{"name":"box"},"transform":[{"filter":"datum.p=='D2'"}],"mark":{"type":"tick","size":17,"thickness":1.5},"encoding":{"y":{"field":"md","type":"quantitative","axis":{"values":[0,50,100,150],"labelOverlap":false},"title":"Pow (mV²/sec)"},"color":{"field":"g","legend":null}}},
   {"data":{"name":"pts"},"transform":[{"filter":"datum.p=='D2'"}],"mark":{"type":"circle","size":38,"opacity":1},"encoding":{"y":{"field":"v","type":"quantitative","axis":{"values":[0,50,100,150],"labelOverlap":false},"title":"Pow (mV²/sec)"},"xOffset":{"field":"s","type":"nominal","scale":{"type":"point","domain":[1,2,3,4,5,6,7,8],"range":[5.5,17.5],"padding":0}},"color":{"field":"g","legend":null}}},
   {"data":{"name":"ep"},"mark":{"type":"text","fontSize":18,"lineBreak":"\n","lineHeight":19,"baseline":"middle","align":"center"},"encoding":{"x":{"field":"g","type":"nominal","bandPosition":0,"scale":{"domain":["YPN","YPC","YTN","YTC","gap","APN","APC","ATN","ATC"],"paddingInner":0,"paddingOuter":0.5},"axis":{"values":["YTN","ATN"],"bandPosition":0,"labelExpr":"datum.value=='YTN'?'Young':'Aged'","titlePadding":7},"title":"** Co-Occurrence"},"y":{"datum":146,"type":"quantitative","axis":{"values":[0,50,100,150],"labelOverlap":false},"title":"Pow (mV²/sec)"},"text":{"field":"t"}}},
   {"data":{"name":"cd"},"mark":{"type":"text","fontSize":17,"fontWeight":"bold","angle":315,"baseline":"middle","align":"center"},"encoding":{"y":{"datum":91,"type":"quantitative","axis":{"values":[0,50,100,150],"labelOverlap":false},"title":"Pow (mV²/sec)"},"text":{"field":"t"}}}
  ]},
 {"width":230,"height":238,
  "title":{"text":"E(i)","subtitle":"\u200b\u00a0\u00a0\u00a0\u00a0\u00a0\u00a0\u00a0Ripple Length","fontSize":26,"subtitlePadding":-7,"dx":-26,"offset":6},
  "encoding":{"x":{"field":"g","type":"nominal","scale":{"domain":["YPN","YPC","YTN","YTC","gap","APN","APC","ATN","ATC"],"paddingInner":0,"paddingOuter":0.5},"axis":{"values":["YTN","ATN"],"bandPosition":0,"labelExpr":"datum.value=='YTN'?'Young':'Aged'","labelPadding":7,"titlePadding":3},"title":"# Co-Occurrence"}},
  "layer":[
   {"data":{"name":"box"},"transform":[{"filter":"datum.p=='E1'&&(datum.g=='YTN'||datum.g=='ATN')"}],"mark":{"type":"rule","color":"#a0a0a0","strokeWidth":1.5},"encoding":{"x":{"field":"g","type":"nominal","bandPosition":0,"scale":{"domain":["YPN","YPC","YTN","YTC","gap","APN","APC","ATN","ATC"],"paddingInner":0,"paddingOuter":0.5},"axis":{"values":["YTN","ATN"],"bandPosition":0,"labelExpr":"datum.value=='YTN'?'Young':'Aged'","labelPadding":7,"titlePadding":3},"title":"# Co-Occurrence"}}},
   {"data":{"name":"box"},"transform":[{"filter":"datum.p=='E1'"}],"mark":{"type":"rule","strokeDash":[5,3],"strokeWidth":1.5},"encoding":{"y":{"field":"lo","type":"quantitative","scale":{"domain":[0,60],"nice":false,"zero":false},"axis":{"values":[0,10,20,30,40,50,60],"labelOverlap":false},"title":"Ripple Length (ms)"},"y2":{"field":"hi"},"color":{"field":"g","legend":null}}},
   {"data":{"name":"box"},"transform":[{"filter":"datum.p=='E1'"}],"mark":{"type":"tick","size":8,"thickness":1.5},"encoding":{"y":{"field":"lo","type":"quantitative","axis":{"values":[0,10,20,30,40,50,60],"labelOverlap":false},"title":"Ripple Length (ms)"},"color":{"field":"g","legend":null}}},
   {"data":{"name":"box"},"transform":[{"filter":"datum.p=='E1'"}],"mark":{"type":"tick","size":8,"thickness":1.5},"encoding":{"y":{"field":"hi","type":"quantitative","axis":{"values":[0,10,20,30,40,50,60],"labelOverlap":false},"title":"Ripple Length (ms)"},"color":{"field":"g","legend":null}}},
   {"data":{"name":"box"},"transform":[{"filter":"datum.p=='E1'"}],"mark":{"type":"bar","size":17,"strokeWidth":1.5,"opacity":1},"encoding":{"y":{"field":"q1","type":"quantitative","axis":{"values":[0,10,20,30,40,50,60],"labelOverlap":false},"title":"Ripple Length (ms)"},"y2":{"field":"q3"},"stroke":{"field":"g","legend":null},"fill":{"field":"g","scale":{"domain":["YPN","YPC","YTN","YTC","APN","APC","ATN","ATC"],"range":["#ffffff","#ffffff","#cacaf2","#cacaf2","#ffffff","#ffffff","#f6cdd8","#f6cdd8"]},"legend":null}}},
   {"data":{"name":"box"},"transform":[{"filter":"datum.p=='E1'"}],"mark":{"type":"tick","size":17,"thickness":1.5},"encoding":{"y":{"field":"md","type":"quantitative","axis":{"values":[0,10,20,30,40,50,60],"labelOverlap":false},"title":"Ripple Length (ms)"},"color":{"field":"g","legend":null}}},
   {"data":{"name":"pts"},"transform":[{"filter":"datum.p=='E1'"}],"mark":{"type":"circle","size":38,"opacity":1},"encoding":{"y":{"field":"v","type":"quantitative","axis":{"values":[0,10,20,30,40,50,60],"labelOverlap":false},"title":"Ripple Length (ms)"},"xOffset":{"field":"s","type":"nominal","scale":{"type":"point","domain":[1,2,3,4,5,6,7,8],"range":[5.5,17.5],"padding":0}},"color":{"field":"g","legend":null}}},
   {"data":{"name":"ep"},"mark":{"type":"text","fontSize":18,"lineBreak":"\n","lineHeight":19,"baseline":"middle","align":"center"},"encoding":{"x":{"field":"g","type":"nominal","bandPosition":0,"scale":{"domain":["YPN","YPC","YTN","YTC","gap","APN","APC","ATN","ATC"],"paddingInner":0,"paddingOuter":0.5},"axis":{"values":["YTN","ATN"],"bandPosition":0,"labelExpr":"datum.value=='YTN'?'Young':'Aged'","labelPadding":7,"titlePadding":3},"title":"# Co-Occurrence"},"y":{"datum":58,"type":"quantitative","axis":{"values":[0,10,20,30,40,50,60],"labelOverlap":false},"title":"Ripple Length (ms)"},"text":{"field":"t"}}},
   {"data":{"name":"cd"},"mark":{"type":"text","fontSize":17,"fontWeight":"bold","angle":315,"baseline":"middle","align":"center"},"encoding":{"y":{"datum":13.4,"type":"quantitative","axis":{"values":[0,10,20,30,40,50,60],"labelOverlap":false},"title":"Ripple Length (ms)"},"text":{"field":"t"}}}
  ]},
 {"width":230,"height":238,
  "title":{"text":"(ii)","subtitle":"\u200b\u00a0\u00a0\u00a0\u00a0\u00a0\u00a0\u00a0Ripple Length","fontSize":26,"subtitlePadding":-7,"dx":-18,"offset":6},
  "encoding":{"x":{"field":"g","type":"nominal","scale":{"domain":["YPN","YPC","YTN","YTC","gap","APN","APC","ATN","ATC"],"paddingInner":0,"paddingOuter":0.5},"axis":{"values":["YTN","ATN"],"bandPosition":0,"labelExpr":"datum.value=='YTN'?'Young':'Aged'","labelPadding":7,"titlePadding":3},"title":["# Co-Occurrence","* Age x Co-Occurrence"]}},
  "layer":[
   {"data":{"name":"box"},"transform":[{"filter":"datum.p=='E2'&&(datum.g=='YTN'||datum.g=='ATN')"}],"mark":{"type":"rule","color":"#a0a0a0","strokeWidth":1.5},"encoding":{"x":{"field":"g","type":"nominal","bandPosition":0,"scale":{"domain":["YPN","YPC","YTN","YTC","gap","APN","APC","ATN","ATC"],"paddingInner":0,"paddingOuter":0.5},"axis":{"values":["YTN","ATN"],"bandPosition":0,"labelExpr":"datum.value=='YTN'?'Young':'Aged'","labelPadding":7,"titlePadding":3},"title":["# Co-Occurrence","* Age x Co-Occurrence"]}}},
   {"data":{"name":"box"},"transform":[{"filter":"datum.p=='E2'"}],"mark":{"type":"rule","strokeDash":[5,3],"strokeWidth":1.5},"encoding":{"y":{"field":"lo","type":"quantitative","scale":{"domain":[0,60],"nice":false,"zero":false},"axis":{"values":[0,10,20,30,40,50,60],"labelOverlap":false},"title":"Ripple Length (ms)"},"y2":{"field":"hi"},"color":{"field":"g","legend":null}}},
   {"data":{"name":"box"},"transform":[{"filter":"datum.p=='E2'"}],"mark":{"type":"tick","size":8,"thickness":1.5},"encoding":{"y":{"field":"lo","type":"quantitative","axis":{"values":[0,10,20,30,40,50,60],"labelOverlap":false},"title":"Ripple Length (ms)"},"color":{"field":"g","legend":null}}},
   {"data":{"name":"box"},"transform":[{"filter":"datum.p=='E2'"}],"mark":{"type":"tick","size":8,"thickness":1.5},"encoding":{"y":{"field":"hi","type":"quantitative","axis":{"values":[0,10,20,30,40,50,60],"labelOverlap":false},"title":"Ripple Length (ms)"},"color":{"field":"g","legend":null}}},
   {"data":{"name":"box"},"transform":[{"filter":"datum.p=='E2'"}],"mark":{"type":"bar","size":17,"strokeWidth":1.5,"opacity":1},"encoding":{"y":{"field":"q1","type":"quantitative","axis":{"values":[0,10,20,30,40,50,60],"labelOverlap":false},"title":"Ripple Length (ms)"},"y2":{"field":"q3"},"stroke":{"field":"g","legend":null},"fill":{"field":"g","scale":{"domain":["YPN","YPC","YTN","YTC","APN","APC","ATN","ATC"],"range":["#ffffff","#ffffff","#cacaf2","#cacaf2","#ffffff","#ffffff","#f6cdd8","#f6cdd8"]},"legend":null}}},
   {"data":{"name":"box"},"transform":[{"filter":"datum.p=='E2'"}],"mark":{"type":"tick","size":17,"thickness":1.5},"encoding":{"y":{"field":"md","type":"quantitative","axis":{"values":[0,10,20,30,40,50,60],"labelOverlap":false},"title":"Ripple Length (ms)"},"color":{"field":"g","legend":null}}},
   {"data":{"name":"pts"},"transform":[{"filter":"datum.p=='E2'"}],"mark":{"type":"circle","size":38,"opacity":1},"encoding":{"y":{"field":"v","type":"quantitative","axis":{"values":[0,10,20,30,40,50,60],"labelOverlap":false},"title":"Ripple Length (ms)"},"xOffset":{"field":"s","type":"nominal","scale":{"type":"point","domain":[1,2,3,4,5,6,7,8],"range":[5.5,17.5],"padding":0}},"color":{"field":"g","legend":null}}},
   {"data":{"name":"ep"},"mark":{"type":"text","fontSize":18,"lineBreak":"\n","lineHeight":19,"baseline":"middle","align":"center"},"encoding":{"x":{"field":"g","type":"nominal","bandPosition":0,"scale":{"domain":["YPN","YPC","YTN","YTC","gap","APN","APC","ATN","ATC"],"paddingInner":0,"paddingOuter":0.5},"axis":{"values":["YTN","ATN"],"bandPosition":0,"labelExpr":"datum.value=='YTN'?'Young':'Aged'","labelPadding":7,"titlePadding":3},"title":["# Co-Occurrence","* Age x Co-Occurrence"]},"y":{"datum":7.1,"type":"quantitative","axis":{"values":[0,10,20,30,40,50,60],"labelOverlap":false},"title":"Ripple Length (ms)"},"text":{"field":"t"}}},
   {"data":{"name":"cd"},"mark":{"type":"text","fontSize":17,"fontWeight":"bold","angle":315,"baseline":"middle","align":"center"},"encoding":{"y":{"datum":14.4,"type":"quantitative","axis":{"values":[0,10,20,30,40,50,60],"labelOverlap":false},"title":"Ripple Length (ms)"},"text":{"field":"t"}}}
  ]},
 {"width":23,"height":10,"data":{"values":[]},"mark":"point"},
 {"width":230,"height":238,
  "title":{"text":"F(i)","subtitle":"\u200b\u00a0\u00a0\u00a0\u00a0\u00a0\u00a0\u00a0\u00a0Ripple Length","fontSize":26,"subtitlePadding":-7,"dx":-27,"offset":-2},
  "encoding":{"x":{"field":"g","type":"nominal","scale":{"domain":["YPN","YPC","YTN","YTC","gap","APN","APC","ATN","ATC"],"paddingInner":0,"paddingOuter":0.5},"axis":{"values":["YTN","ATN"],"bandPosition":0,"labelExpr":"datum.value=='YTN'?'Young':'Aged'","labelPadding":7,"titlePadding":3},"title":"** Co-Occurrence"}},
  "layer":[
   {"data":{"name":"box"},"transform":[{"filter":"datum.p=='F1'&&(datum.g=='YTN'||datum.g=='ATN')"}],"mark":{"type":"rule","color":"#a0a0a0","strokeWidth":1.5},"encoding":{"x":{"field":"g","type":"nominal","bandPosition":0,"scale":{"domain":["YPN","YPC","YTN","YTC","gap","APN","APC","ATN","ATC"],"paddingInner":0,"paddingOuter":0.5},"axis":{"values":["YTN","ATN"],"bandPosition":0,"labelExpr":"datum.value=='YTN'?'Young':'Aged'","labelPadding":7,"titlePadding":3},"title":"** Co-Occurrence"}}},
   {"data":{"name":"box"},"transform":[{"filter":"datum.p=='F1'"}],"mark":{"type":"rule","strokeDash":[5,3],"strokeWidth":1.5},"encoding":{"y":{"field":"lo","type":"quantitative","scale":{"domain":[0,60],"nice":false,"zero":false},"axis":{"values":[0,10,20,30,40,50,60],"labelOverlap":false},"title":"Ripple Length (ms)"},"y2":{"field":"hi"},"color":{"field":"g","legend":null}}},
   {"data":{"name":"box"},"transform":[{"filter":"datum.p=='F1'"}],"mark":{"type":"tick","size":8,"thickness":1.5},"encoding":{"y":{"field":"lo","type":"quantitative","axis":{"values":[0,10,20,30,40,50,60],"labelOverlap":false},"title":"Ripple Length (ms)"},"color":{"field":"g","legend":null}}},
   {"data":{"name":"box"},"transform":[{"filter":"datum.p=='F1'"}],"mark":{"type":"tick","size":8,"thickness":1.5},"encoding":{"y":{"field":"hi","type":"quantitative","axis":{"values":[0,10,20,30,40,50,60],"labelOverlap":false},"title":"Ripple Length (ms)"},"color":{"field":"g","legend":null}}},
   {"data":{"name":"box"},"transform":[{"filter":"datum.p=='F1'"}],"mark":{"type":"bar","size":17,"strokeWidth":1.5,"opacity":1},"encoding":{"y":{"field":"q1","type":"quantitative","axis":{"values":[0,10,20,30,40,50,60],"labelOverlap":false},"title":"Ripple Length (ms)"},"y2":{"field":"q3"},"stroke":{"field":"g","legend":null},"fill":{"field":"g","scale":{"domain":["YPN","YPC","YTN","YTC","APN","APC","ATN","ATC"],"range":["#ffffff","#ffffff","#cacaf2","#cacaf2","#ffffff","#ffffff","#f6cdd8","#f6cdd8"]},"legend":null}}},
   {"data":{"name":"box"},"transform":[{"filter":"datum.p=='F1'"}],"mark":{"type":"tick","size":17,"thickness":1.5},"encoding":{"y":{"field":"md","type":"quantitative","axis":{"values":[0,10,20,30,40,50,60],"labelOverlap":false},"title":"Ripple Length (ms)"},"color":{"field":"g","legend":null}}},
   {"data":{"name":"pts"},"transform":[{"filter":"datum.p=='F1'"}],"mark":{"type":"circle","size":38,"opacity":1},"encoding":{"y":{"field":"v","type":"quantitative","axis":{"values":[0,10,20,30,40,50,60],"labelOverlap":false},"title":"Ripple Length (ms)"},"xOffset":{"field":"s","type":"nominal","scale":{"type":"point","domain":[1,2,3,4,5,6,7,8],"range":[5.5,17.5],"padding":0}},"color":{"field":"g","legend":null}}},
   {"data":{"name":"ep"},"mark":{"type":"text","fontSize":18,"lineBreak":"\n","lineHeight":19,"baseline":"middle","align":"center"},"encoding":{"x":{"field":"g","type":"nominal","bandPosition":0,"scale":{"domain":["YPN","YPC","YTN","YTC","gap","APN","APC","ATN","ATC"],"paddingInner":0,"paddingOuter":0.5},"axis":{"values":["YTN","ATN"],"bandPosition":0,"labelExpr":"datum.value=='YTN'?'Young':'Aged'","labelPadding":7,"titlePadding":3},"title":"** Co-Occurrence"},"y":{"datum":8.4,"type":"quantitative","axis":{"values":[0,10,20,30,40,50,60],"labelOverlap":false},"title":"Ripple Length (ms)"},"text":{"field":"t"}}},
   {"data":{"name":"cd"},"mark":{"type":"text","fontSize":17,"fontWeight":"bold","angle":315,"baseline":"middle","align":"center"},"encoding":{"y":{"datum":59.5,"type":"quantitative","axis":{"values":[0,10,20,30,40,50,60],"labelOverlap":false},"title":"Ripple Length (ms)"},"text":{"field":"t"}}}
  ]},
 {"width":230,"height":238,
  "title":{"text":"(ii)","subtitle":"\u200b\u00a0\u00a0\u00a0\u00a0\u00a0\u00a0Ripple Length","fontSize":26,"subtitlePadding":-7,"dx":-17,"offset":-2},
  "encoding":{"x":{"field":"g","type":"nominal","scale":{"domain":["YPN","YPC","YTN","YTC","gap","APN","APC","ATN","ATC"],"paddingInner":0,"paddingOuter":0.5},"axis":{"values":["YTN","ATN"],"bandPosition":0,"labelExpr":"datum.value=='YTN'?'Young':'Aged'","labelPadding":7,"titlePadding":3},"title":"# Co-Occurrence"}},
  "layer":[
   {"data":{"name":"box"},"transform":[{"filter":"datum.p=='F2'&&(datum.g=='YTN'||datum.g=='ATN')"}],"mark":{"type":"rule","color":"#a0a0a0","strokeWidth":1.5},"encoding":{"x":{"field":"g","type":"nominal","bandPosition":0,"scale":{"domain":["YPN","YPC","YTN","YTC","gap","APN","APC","ATN","ATC"],"paddingInner":0,"paddingOuter":0.5},"axis":{"values":["YTN","ATN"],"bandPosition":0,"labelExpr":"datum.value=='YTN'?'Young':'Aged'","labelPadding":7,"titlePadding":3},"title":"# Co-Occurrence"}}},
   {"data":{"name":"box"},"transform":[{"filter":"datum.p=='F2'"}],"mark":{"type":"rule","strokeDash":[5,3],"strokeWidth":1.5},"encoding":{"y":{"field":"lo","type":"quantitative","scale":{"domain":[0,60],"nice":false,"zero":false},"axis":{"values":[0,10,20,30,40,50,60],"labelOverlap":false},"title":"Ripple Length (ms)"},"y2":{"field":"hi"},"color":{"field":"g","legend":null}}},
   {"data":{"name":"box"},"transform":[{"filter":"datum.p=='F2'"}],"mark":{"type":"tick","size":8,"thickness":1.5},"encoding":{"y":{"field":"lo","type":"quantitative","axis":{"values":[0,10,20,30,40,50,60],"labelOverlap":false},"title":"Ripple Length (ms)"},"color":{"field":"g","legend":null}}},
   {"data":{"name":"box"},"transform":[{"filter":"datum.p=='F2'"}],"mark":{"type":"tick","size":8,"thickness":1.5},"encoding":{"y":{"field":"hi","type":"quantitative","axis":{"values":[0,10,20,30,40,50,60],"labelOverlap":false},"title":"Ripple Length (ms)"},"color":{"field":"g","legend":null}}},
   {"data":{"name":"box"},"transform":[{"filter":"datum.p=='F2'"}],"mark":{"type":"bar","size":17,"strokeWidth":1.5,"opacity":1},"encoding":{"y":{"field":"q1","type":"quantitative","axis":{"values":[0,10,20,30,40,50,60],"labelOverlap":false},"title":"Ripple Length (ms)"},"y2":{"field":"q3"},"stroke":{"field":"g","legend":null},"fill":{"field":"g","scale":{"domain":["YPN","YPC","YTN","YTC","APN","APC","ATN","ATC"],"range":["#ffffff","#ffffff","#cacaf2","#cacaf2","#ffffff","#ffffff","#f6cdd8","#f6cdd8"]},"legend":null}}},
   {"data":{"name":"box"},"transform":[{"filter":"datum.p=='F2'"}],"mark":{"type":"tick","size":17,"thickness":1.5},"encoding":{"y":{"field":"md","type":"quantitative","axis":{"values":[0,10,20,30,40,50,60],"labelOverlap":false},"title":"Ripple Length (ms)"},"color":{"field":"g","legend":null}}},
   {"data":{"name":"pts"},"transform":[{"filter":"datum.p=='F2'"}],"mark":{"type":"circle","size":38,"opacity":1},"encoding":{"y":{"field":"v","type":"quantitative","axis":{"values":[0,10,20,30,40,50,60],"labelOverlap":false},"title":"Ripple Length (ms)"},"xOffset":{"field":"s","type":"nominal","scale":{"type":"point","domain":[1,2,3,4,5,6,7,8],"range":[5.5,17.5],"padding":0}},"color":{"field":"g","legend":null}}},
   {"data":{"name":"ep"},"mark":{"type":"text","fontSize":18,"lineBreak":"\n","lineHeight":19,"baseline":"middle","align":"center"},"encoding":{"x":{"field":"g","type":"nominal","bandPosition":0,"scale":{"domain":["YPN","YPC","YTN","YTC","gap","APN","APC","ATN","ATC"],"paddingInner":0,"paddingOuter":0.5},"axis":{"values":["YTN","ATN"],"bandPosition":0,"labelExpr":"datum.value=='YTN'?'Young':'Aged'","labelPadding":7,"titlePadding":3},"title":"# Co-Occurrence"},"y":{"datum":8.4,"type":"quantitative","axis":{"values":[0,10,20,30,40,50,60],"labelOverlap":false},"title":"Ripple Length (ms)"},"text":{"field":"t"}}},
   {"data":{"name":"cd"},"mark":{"type":"text","fontSize":17,"fontWeight":"bold","angle":315,"baseline":"middle","align":"center"},"encoding":{"y":{"datum":59.5,"type":"quantitative","axis":{"values":[0,10,20,30,40,50,60],"labelOverlap":false},"title":"Ripple Length (ms)"},"text":{"field":"t"}}}
  ]}
 ]}
],
"spacing":6
}
